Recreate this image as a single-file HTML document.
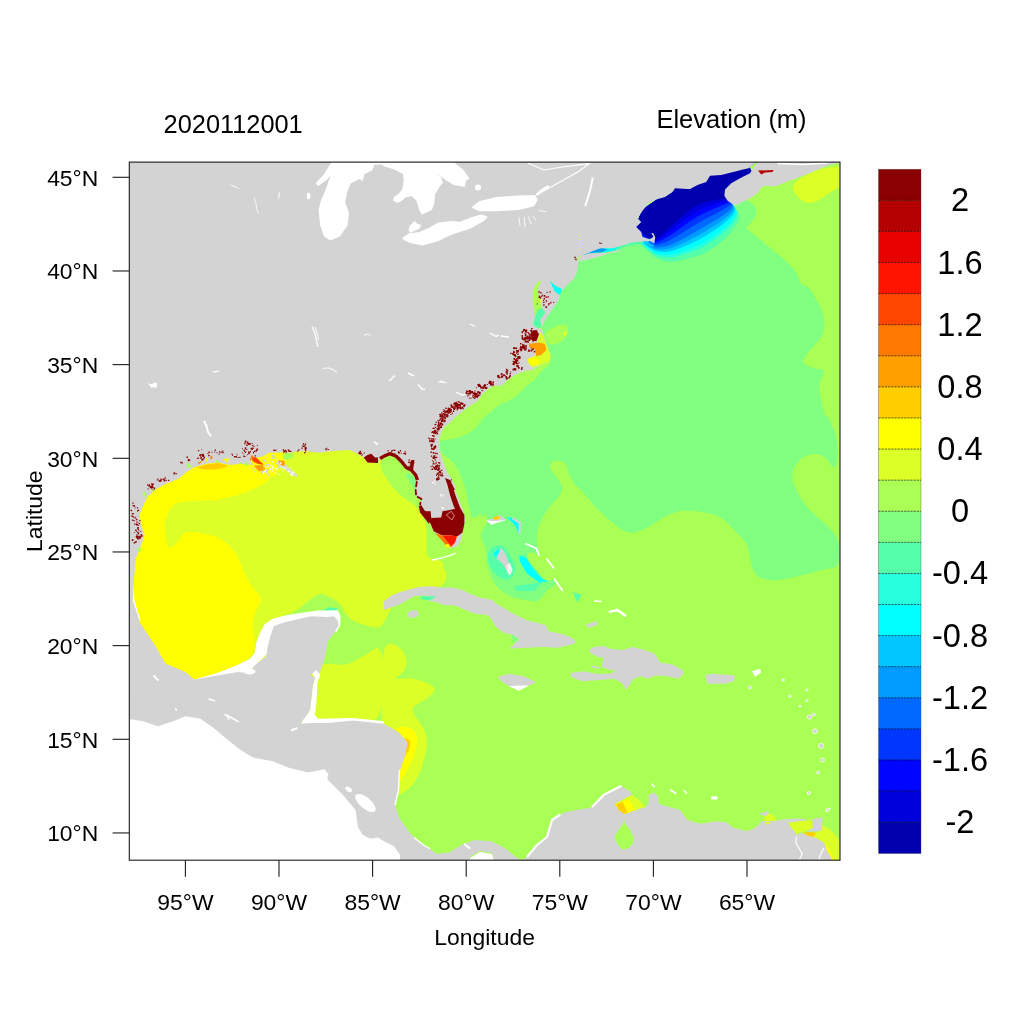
<!DOCTYPE html>
<html><head><meta charset="utf-8"><title>Elevation (m) 2020112001</title>
<style>html,body{margin:0;padding:0;background:#fff}svg{display:block}text{font-family:"Liberation Sans",sans-serif;fill:#000}</style></head>
<body><svg width="1024" height="1024" viewBox="0 0 1024 1024">
<rect width="1024" height="1024" fill="#fff"/>
<defs><clipPath id="f"><rect x="129.3" y="162.1" width="710.7" height="698.1"/></clipPath></defs>
<g clip-path="url(#f)" shape-rendering="geometricPrecision">
<rect x="129" y="162" width="712" height="698" fill="#aaff55"/>
<path d="M549.77 364.38 L548.36 365.62 L546.91 366.88 L545.43 368.12 L543.91 369.38 L542.34 370.62 L540.86 372.03 L539.45 373.59 L538.12 375.31 L536.88 377.19 L535.47 378.91 L533.91 380.47 L532.19 381.88 L530.31 383.12 L528.52 384.45 L526.8 385.86 L525.16 387.34 L523.59 388.91 L522.03 390.47 L520.47 392.03 L518.91 393.59 L517.34 395.16 L515.39 396.72 L513.05 398.28 L510.31 399.84 L507.19 401.41 L504.06 403.12 L500.94 405 L497.81 407.03 L494.69 409.22 L491.8 411.33 L489.14 413.36 L486.72 415.31 L484.53 417.19 L482.34 419.09 L480.16 421.03 L477.97 423 L475.78 425 L476.36 424.79 L479.7 422.37 L485.81 417.73 L494.69 410.89 L500.77 406.03 L504.05 403.15 L504.53 402.26 L502.22 403.36 L499.94 404.65 L497.69 406.13 L495.47 407.81 L493.28 409.69 L491.02 411.8 L488.67 414.14 L486.25 416.72 L483.75 419.53 L481.25 422.19 L478.75 424.69 L476.25 427.03 L473.75 429.22 L471.25 431.17 L468.75 432.89 L466.25 434.38 L463.75 435.62 L461.25 436.68 L458.75 437.54 L456.25 438.21 L453.75 438.68 L451.29 439.08 L448.87 439.43 L446.48 439.71 L444.14 439.92 L442.26 440.46 L440.86 441.32 L439.92 442.5 L439.45 444 L439.22 445.52 L439.22 447.05 L439.45 448.59 L439.92 450.16 L440.86 451.72 L442.26 453.28 L444.14 454.84 L446.48 456.41 L448.71 458.12 L450.82 460 L452.81 462.03 L454.69 464.22 L456.33 466.48 L457.73 468.83 L458.91 471.25 L459.84 473.75 L460.86 476.41 L461.95 479.22 L463.12 482.19 L464.38 485.31 L465.39 488.44 L466.17 491.56 L466.72 494.69 L467.03 497.81 L467.58 501.09 L468.36 504.53 L469.38 508.12 L470.62 511.88 L472.03 514.38 L473.59 515.62 L475.31 515.62 L477.19 514.38 L478.98 513.75 L480.7 513.75 L482.34 514.38 L483.91 515.62 L483.91 516.25 L482.34 516.25 L479.22 515.62 L474.53 514.38 L471.41 513.83 L469.84 513.98 L469.84 514.84 L471.41 516.41 L473.05 517.27 L474.77 517.42 L476.56 516.88 L478.44 515.62 L480.16 514.77 L481.72 514.3 L483.12 514.22 L484.38 514.53 L485.39 515.23 L486.17 516.33 L486.72 517.81 L487.03 519.69 L486.88 521.64 L486.25 523.67 L485.16 525.78 L483.59 527.97 L482.42 530.16 L481.64 532.34 L481.25 534.53 L481.25 536.72 L481.56 538.91 L482.19 541.09 L483.12 543.28 L484.38 545.47 L485.31 547.81 L485.94 550.31 L486.25 552.97 L486.25 555.78 L486.48 558.83 L486.95 562.11 L487.66 565.62 L488.59 569.38 L489.61 572.81 L490.7 575.94 L491.88 578.75 L493.12 581.25 L494.61 583.59 L496.33 585.78 L498.28 587.81 L500.47 589.69 L502.66 591.41 L504.84 592.97 L507.03 594.38 L509.22 595.62 L511.64 596.72 L514.3 597.66 L517.19 598.44 L520.31 599.06 L523.53 599.67 L526.84 600.27 L530.25 600.84 L533.75 601.41 L536.92 600.97 L539.77 599.53 L542.28 597.09 L544.47 593.66 L546.81 590.8 L549.31 588.52 L551.97 586.81 L554.78 585.69 L555.95 584.03 L555.48 581.84 L553.38 579.12 L549.62 575.88 L546.38 571.88 L543.62 567.12 L541.38 561.62 L539.62 555.38 L538.31 549.59 L537.44 544.28 L537 539.44 L537 535.06 L537.59 530.61 L538.78 526.08 L540.56 521.47 L542.94 516.78 L545.69 512.25 L548.81 507.88 L552.31 503.66 L556.19 499.59 L559.09 495.92 L561.03 492.64 L562 489.75 L562 487.25 L561.27 484.52 L559.8 481.55 L557.59 478.34 L554.66 474.91 L552.41 471.94 L550.84 469.44 L549.97 467.41 L549.78 465.84 L550.08 464.44 L550.86 463.19 L552.12 462.09 L553.88 461.16 L555.81 460.64 L557.94 460.55 L560.25 460.88 L562.75 461.62 L564.86 463.25 L566.58 465.75 L567.91 469.12 L568.84 473.38 L570.41 477.42 L572.59 481.27 L575.41 484.91 L578.84 488.34 L582.36 492.02 L585.95 495.92 L589.62 500.06 L593.38 504.44 L597.75 509.05 L602.75 513.89 L608.38 518.97 L614.62 524.28 L620.31 528.34 L625.44 531.16 L630 532.72 L634 533.03 L635.28 532.64 L633.84 531.55 L629.69 529.75 L622.81 527.25 L618.59 526 L617.03 526 L618.12 527.25 L621.88 529.75 L625.78 531.39 L629.84 532.17 L634.06 532.09 L638.44 531.16 L642.97 529.59 L647.66 527.41 L652.5 524.59 L657.5 521.16 L662.34 518.19 L667.03 515.69 L671.56 513.66 L675.94 512.09 L680.62 511.08 L685.62 510.61 L690.94 510.69 L696.56 511.31 L701.88 512.09 L706.88 513.03 L711.56 514.12 L715.94 515.38 L720 517.17 L723.75 519.52 L727.19 522.41 L730.31 525.84 L733.44 529.2 L736.56 532.48 L739.69 535.69 L742.81 538.81 L745.31 542.09 L747.19 545.53 L748.44 549.12 L749.06 552.88 L749.72 556.47 L750.41 559.91 L751.12 563.19 L751.88 566.31 L752.88 569.12 L754.12 571.62 L755.62 573.81 L757.38 575.69 L759.62 577.25 L762.38 578.5 L765.62 579.44 L769.38 580.06 L773.75 580.22 L778.75 579.91 L784.38 579.12 L790.62 577.88 L796.88 576.5 L803.12 575 L809.38 573.38 L815.62 571.62 L821.25 570.17 L826.25 569.02 L830.62 568.16 L834.38 567.59 L837.19 565.48 L839.06 561.83 L840 556.62 L840 549.88 L839.06 543.8 L837.19 538.39 L834.38 533.66 L830.62 529.59 L826.72 525.61 L822.66 521.7 L818.44 517.88 L814.06 514.12 L810.08 510.22 L806.48 506.16 L803.28 501.94 L800.47 497.56 L798.05 493.34 L796.02 489.28 L794.38 485.38 L793.12 481.62 L792.5 477.95 L792.5 474.36 L793.12 470.84 L794.38 467.41 L796.17 464.25 L798.52 461.38 L801.41 458.78 L804.84 456.47 L808.36 454.89 L811.95 454.05 L815.62 453.94 L819.38 454.56 L822.73 455.92 L825.7 458.02 L828.28 460.84 L830.47 464.41 L832.34 466.53 L833.91 467.22 L835.16 466.47 L836.09 464.28 L836.8 461.31 L837.27 457.56 L837.5 453.03 L837.5 447.72 L837.19 442.88 L836.56 438.5 L835.62 434.59 L834.38 431.16 L833.12 427.95 L831.88 424.98 L830.62 422.25 L829.38 419.75 L828.28 417.88 L827.34 416.62 L826.56 416 L825.94 416 L825 414.06 L823.75 410.19 L822.19 404.38 L820.31 396.62 L819.45 389.88 L819.61 384.12 L820.78 379.38 L822.97 375.62 L823.91 372.73 L823.59 370.7 L822.03 369.53 L819.22 369.22 L816.33 368.67 L813.36 367.89 L810.31 366.88 L807.19 365.62 L804.92 364.3 L803.52 362.89 L802.97 361.41 L803.28 359.84 L804.22 357.89 L805.78 355.55 L807.97 352.81 L810.78 349.69 L813.52 346.56 L816.17 343.44 L818.75 340.31 L821.25 337.19 L823.05 333.59 L824.14 329.53 L824.53 325 L824.22 320 L823.44 315.31 L822.19 310.94 L820.47 306.88 L818.28 303.12 L816.17 299.53 L814.14 296.09 L812.19 292.81 L810.31 289.69 L808.59 287.47 L807.03 286.16 L805.62 285.75 L804.38 286.25 L803.05 285.69 L801.64 284.06 L800.16 281.38 L798.59 277.62 L796.88 274.19 L795 271.06 L792.97 268.25 L790.78 265.75 L788.36 263.25 L785.7 260.75 L782.81 258.25 L779.69 255.75 L776.41 253.09 L772.97 250.28 L769.38 247.31 L765.62 244.19 L762.19 241.3 L759.06 238.64 L756.25 236.22 L753.75 234.03 L751.56 232.19 L749.69 230.71 L748.12 229.58 L746.88 228.79 L746.17 228.09 L746.02 227.47 L746.41 226.92 L747.34 226.45 L748.44 225.63 L749.69 224.46 L751.09 222.94 L752.66 221.06 L753.98 219.11 L755.08 217.08 L755.94 214.97 L756.56 212.78 L756.56 210.59 L755.94 208.41 L754.69 206.22 L752.81 204.03 L750 201.92 L746.25 199.89 L741.56 197.94 L735.94 196.06 L729.38 193.88 L721.88 191.38 L713.44 188.56 L704.06 185.44 L693.16 186.72 L680.72 192.41 L666.75 202.5 L651.25 217 L636.62 228.89 L622.88 238.17 L610 244.84 L598 248.91 L588.69 252.89 L582.06 256.8 L578.12 260.62 L576.88 264.38 L574.53 268.91 L571.09 274.22 L566.56 280.31 L560.94 287.19 L556.02 294.22 L551.8 301.41 L548.28 308.75 L545.47 316.25 L543.52 322.19 L542.42 326.56 L542.19 329.38 L542.81 330.62 L543.79 333.44 L545.12 337.81 L546.8 343.75 L548.83 351.25 L550 357.19 L550.32 361.56Z" fill="#80ff80" />
<path d="M547.03 331.01 L549.22 329.61 L551.33 328.36 L553.36 327.27 L555.31 326.33 L557.19 325.55 L559.06 325 L560.94 324.69 L562.81 324.61 L564.69 324.77 L566.13 325.35 L567.15 326.37 L567.73 327.81 L567.89 329.69 L567.81 331.48 L567.5 333.2 L566.95 334.84 L566.17 336.41 L565.19 337.85 L564.02 339.18 L562.66 340.39 L561.09 341.48 L559.53 342.42 L557.97 343.2 L556.41 343.82 L554.84 344.29 L553.4 344.57 L552.07 344.65 L550.86 344.53 L549.76 344.22 L548.67 343.32 L547.57 341.83 L546.48 339.76 L545.39 337.11 L545.12 334.76 L545.66 332.73Z" fill="#aaff55" />
<path d="M563.12 332.5 L566.25 330.62 L566.88 334.38 L564.38 336.25Z" fill="#dcff28" />
<path d="M224 441 L288 441 L335.75 442.66 L367.25 445.97 L382.5 450.94 L381.5 457.56 L381.22 463.31 L381.66 468.19 L382.81 472.19 L384.69 475.31 L386.56 478.28 L388.44 481.09 L390.31 483.75 L392.19 486.25 L394.22 488.67 L396.41 491.02 L398.75 493.28 L401.25 495.47 L403.67 497.42 L406.02 499.14 L408.28 500.62 L410.47 501.88 L412.58 503.36 L414.61 505.08 L416.56 507.03 L418.44 509.22 L420.16 511.64 L421.72 514.3 L423.12 517.19 L424.38 520.31 L425.31 522.5 L425.94 523.75 L426.25 524.06 L426.25 523.44 L426.29 524.06 L426.37 525.94 L426.49 529.06 L426.64 533.44 L426.72 537.89 L426.72 542.42 L426.64 547.03 L426.49 551.72 L427.31 555.33 L429.1 557.86 L431.88 559.31 L435.62 559.69 L438.59 560.19 L440.78 560.81 L442.19 561.56 L442.81 562.44 L443.2 563.33 L443.36 564.23 L443.28 565.16 L442.97 566.09 L443.01 567.11 L443.4 568.2 L444.14 569.38 L445.24 570.62 L446.02 572.03 L446.49 573.59 L446.64 575.31 L446.49 577.19 L446.13 578.91 L445.59 580.47 L444.84 581.88 L443.91 583.12 L442.89 584.22 L441.8 585.16 L440.62 585.94 L439.38 586.56 L436.09 587.11 L430.78 587.58 L423.44 587.97 L414.06 588.28 L406.03 590.69 L399.34 595.19 L394 601.78 L390 610.47 L386.62 617.3 L383.88 622.27 L381.75 625.38 L380.25 626.62 L378.19 627.33 L375.56 627.48 L372.38 627.09 L368.62 626.16 L364.88 625.06 L361.12 623.81 L357.38 622.41 L353.62 620.84 L350.34 618.73 L347.53 616.08 L345.19 612.88 L343.31 609.12 L341.28 605.92 L339.09 603.27 L336.75 601.16 L334.25 599.59 L331.75 598.11 L329.25 596.7 L326.75 595.38 L324.25 594.12 L321.59 593.73 L318.78 594.2 L315.81 595.53 L312.69 597.72 L309.41 600.14 L305.97 602.8 L302.38 605.69 L298.62 608.81 L294.88 611.31 L291.12 613.19 L287.38 614.44 L283.62 615.06 L280.19 619.03 L277.06 626.34 L274.25 637 L271.75 651 L261.12 661.5 L242.38 668.5 L215.5 672 L180.5 672 L154.25 657.56 L136.75 628.69 L128 585.38 L128 527.62 L128 484.31 L128 455.44 L128 441 L128 441 L144 441 L176 441Z" fill="#dcff28" />
<path d="M254.69 470.31 L257.81 472.19 L260.78 473.69 L263.59 474.81 L266.25 475.56 L268.75 475.94 L270 476.75 L270 478 L268.75 479.69 L266.25 481.81 L263.59 483.76 L260.78 485.52 L257.81 487.11 L254.69 488.51 L251.62 489.84 L248.62 491.09 L245.69 492.26 L242.81 493.36 L239.88 494.37 L236.88 495.31 L233.81 496.17 L230.69 496.95 L227.56 497.69 L224.44 498.39 L221.31 499.06 L218.19 499.68 L214.75 500.15 L211 500.46 L206.94 500.62 L202.56 500.62 L198.34 500.7 L194.28 500.86 L190.38 501.09 L186.62 501.41 L183.27 501.84 L180.3 502.39 L177.72 503.05 L175.53 503.83 L173.58 505.04 L171.86 506.68 L170.38 508.75 L169.12 511.25 L167.99 513.59 L166.98 515.78 L166.08 517.81 L165.29 519.69 L164.79 521.88 L164.55 524.38 L164.59 527.19 L164.91 530.31 L165.3 533.52 L165.77 536.8 L166.32 540.16 L166.94 543.59 L167.76 546.02 L168.78 547.42 L169.99 547.81 L171.39 547.19 L172.84 546.33 L174.32 545.23 L175.84 543.91 L177.41 542.34 L178.73 540.78 L179.83 539.22 L180.69 537.66 L181.31 536.09 L182.25 534.77 L183.5 533.67 L185.06 532.81 L186.94 532.19 L189.2 531.88 L191.86 531.88 L194.91 532.19 L198.34 532.81 L201.7 533.44 L204.98 534.06 L208.19 534.69 L211.31 535.31 L214.28 536.17 L217.09 537.27 L219.75 538.59 L222.25 540.16 L224.59 541.8 L226.78 543.52 L228.81 545.31 L230.69 547.19 L232.41 549.09 L233.97 551.03 L235.38 553 L236.62 555 L237.69 556.84 L238.56 558.53 L239.25 560.06 L239.75 561.44 L240.75 563.88 L242.25 567.38 L244.25 571.94 L246.75 577.56 L249.41 582.56 L252.22 586.94 L255.19 590.69 L258.31 593.81 L260.19 596.94 L260.81 600.06 L260.19 603.19 L258.31 606.31 L256.67 609.44 L255.27 612.56 L254.09 615.69 L253.16 618.81 L252.69 622.25 L252.69 626 L253.16 630.06 L254.09 634.44 L254.64 638.66 L254.8 642.72 L254.56 646.62 L253.94 650.38 L252.38 653.81 L249.88 656.94 L246.44 659.75 L242.06 662.25 L237.84 665.69 L233.78 670.06 L229.88 675.38 L226.12 681.62 L217.53 686.31 L204.09 689.44 L185.81 691 L162.69 691 L145.34 675.38 L133.78 644.12 L128 597.25 L128 534.75 L132.69 487.88 L142.06 456.62 L156.12 441 L174.88 441 L191.88 442.66 L207.12 445.97 L220.62 450.94 L232.38 457.56 L241.97 463 L249.41 467.25Z" fill="#ffff00" />
<path d="M196 467.5 L206 464.38 L218.5 463.12 L228.5 465.62 L223.5 468.12 L213.5 469.75 L203.5 469.38Z" fill="#ffcd00" />
<path d="M248.75 457.5 L263.75 455.62 L268.75 452.25 L291.25 452.25 L293.75 457.5 L287.5 461.25 L280 461.88 L275 476.5 L262.5 475 L248.75 467.5Z" fill="#ffff00" />
<path d="M283.75 452.75 L292.5 452.75 L293.75 457.5 L287.5 460.62 L282.75 457.5Z" fill="#aaff55" />
<path d="M383.59 457.03 L385.16 456.72 L387.03 456.72 L389.22 457.03 L391.72 457.66 L394.53 458.59 L397.27 460.08 L399.92 462.11 L402.5 464.69 L405 467.81 L407.34 470.47 L409.53 472.66 L411.56 474.38 L413.44 475.62 L414.84 477.19 L415.78 479.06 L416.25 481.25 L416.25 483.75 L416.13 486.25 L415.9 488.75 L415.55 491.25 L415.08 493.75 L414.93 496.02 L415.08 498.05 L415.55 499.84 L416.33 501.41 L416.68 502.58 L416.6 503.36 L416.09 503.75 L415.16 503.75 L413.91 503.44 L412.34 502.81 L410.47 501.88 L408.28 500.62 L406.02 499.14 L403.67 497.42 L401.25 495.47 L398.75 493.28 L396.41 491.02 L394.22 488.67 L392.19 486.25 L390.31 483.75 L388.44 481.09 L386.56 478.28 L384.69 475.31 L382.81 472.19 L381.48 469.22 L380.7 466.41 L380.47 463.75 L380.78 461.25 L381.41 459.3 L382.34 457.89Z" fill="#aaff55" />
<path d="M405 473.12 L410 473.75 L416.25 478.75 L416 490 L413.12 487.5 L408.75 480Z" fill="#80ff80" />
<path d="M315 452.75 L316.25 444.38 L318.5 452.75Z" fill="#aaff55" />
<path d="M283.75 457.5 L291.25 454.38 L293.12 457.5 L286.25 460Z" fill="#aaff55" />
<path d="M377.06 647.19 L372.44 650.31 L367.72 653.36 L362.91 656.33 L358 659.22 L353 662.03 L348.16 663.91 L343.47 664.84 L338.94 664.84 L334.56 663.91 L329.72 663.67 L324.41 664.14 L318.62 665.31 L312.38 667.19 L307.69 672.5 L304.56 681.25 L303 693.44 L303 709.06 L308.06 720.78 L318.19 728.59 L333.38 732.5 L353.62 732.5 L368.81 726.88 L378.94 715.62 L384 698.75 L384 676.25 L382.84 660.16 L380.53 650.47Z" fill="#dcff28" />
<path d="M388.06 643.44 L392.44 644.06 L396.27 645.47 L399.55 647.66 L402.28 650.62 L404.47 654.38 L405.88 657.97 L406.5 661.41 L406.34 664.69 L405.41 667.81 L403.92 670.62 L401.89 673.12 L399.31 675.31 L396.19 677.19 L395.25 678.44 L396.5 679.06 L399.94 679.06 L405.56 678.44 L411.27 678.59 L417.05 679.53 L422.91 681.25 L428.84 683.75 L432.75 686.25 L434.62 688.75 L434.47 691.25 L432.28 693.75 L429.55 696.25 L426.27 698.75 L422.44 701.25 L418.06 703.75 L414.94 706.09 L413.06 708.28 L412.44 710.31 L413.06 712.19 L414.23 714.53 L415.95 717.34 L418.22 720.62 L421.03 724.38 L423.3 728.12 L425.02 731.88 L426.19 735.62 L426.81 739.38 L426.89 743.75 L426.42 748.75 L425.41 754.38 L423.84 760.62 L422.05 766.41 L420.02 771.72 L417.75 776.56 L415.25 780.94 L412.59 784.69 L409.78 787.81 L406.81 790.31 L403.69 792.19 L400.41 793.91 L396.97 795.47 L393.38 796.88 L389.62 798.12 L386.66 794.38 L384.47 785.62 L383.06 771.88 L382.44 753.12 L381.97 733.91 L381.66 714.22 L381.5 694.06 L381.5 673.44 L382.59 658.12 L384.78 648.12Z" fill="#dcff28" />
<path d="M399.62 727.03 L403.38 726.72 L406.73 727.03 L409.7 727.97 L412.28 729.53 L414.47 731.72 L416.03 734.3 L416.97 737.27 L417.28 740.62 L416.97 744.38 L416.27 748.28 L415.17 752.34 L413.69 756.56 L411.81 760.94 L409.94 765 L408.06 768.75 L406.19 772.19 L404.31 775.31 L402.59 777.81 L401.03 779.69 L399.62 780.94 L398.38 781.56 L397.44 779.69 L396.81 775.31 L396.5 768.44 L396.5 759.06 L396.34 750.94 L396.03 744.06 L395.56 738.44 L394.94 734.06 L395.41 730.7 L396.97 728.36Z" fill="#ffff00" />
<path d="M405.25 737.5 L410.25 741.25 L409 750 L402.75 760 L399 760Z" fill="#ffcd00" />
<path d="M835.66 166.38 L828.59 167.62 L822.64 168.88 L817.8 170.12 L814.06 171.38 L811.44 172.62 L808.77 173.95 L806.05 175.36 L803.28 176.84 L800.47 178.41 L798.12 179.97 L796.25 181.53 L794.84 183.09 L793.91 184.66 L793.28 186.14 L792.97 187.55 L792.97 188.88 L793.28 190.12 L793.91 191.53 L794.84 193.09 L796.09 194.81 L797.66 196.69 L799.38 198.37 L801.25 199.85 L803.28 201.14 L805.47 202.24 L807.69 202.88 L809.94 203.07 L812.22 202.8 L814.53 202.08 L816.94 201.06 L819.44 199.73 L822.03 198.09 L824.72 196.16 L827.44 194.31 L830.19 192.56 L832.97 190.91 L835.78 189.34 L838.28 188.09 L840.47 187.16 L842.34 186.53 L843.91 186.22 L845.08 184.66 L845.86 181.84 L846.25 177.78 L846.25 172.47 L844.48 168.8 L840.95 166.77Z" fill="#dcff28" />
<path d="M637.5 242 L637.65 242.13 L637.94 242.38 L638.38 242.76 L638.97 243.27 L639.7 243.9 L640.58 244.67 L641.6 245.56 L642.77 246.57 L643.95 247.6 L645.12 248.63 L646.29 249.68 L647.46 250.73 L648.63 251.8 L649.8 252.87 L650.98 253.95 L652.15 255.05 L653.41 256.06 L654.76 257 L656.19 257.86 L657.72 258.64 L659.33 259.34 L661.02 259.97 L662.81 260.51 L664.69 260.99 L666.58 261.34 L668.5 261.57 L670.43 261.69 L672.38 261.69 L674.36 261.57 L676.35 261.34 L678.36 260.99 L680.39 260.51 L682.4 260.04 L684.39 259.55 L686.37 259.05 L688.32 258.54 L690.25 258.02 L692.17 257.5 L694.06 256.96 L695.94 256.41 L697.77 255.82 L699.57 255.17 L701.33 254.48 L703.05 253.74 L704.73 252.95 L706.37 252.11 L707.97 251.22 L709.53 250.28 L711.13 249.26 L712.77 248.17 L714.45 247 L716.17 245.75 L717.93 244.42 L719.73 243.01 L721.56 241.53 L723.44 239.97 L725.26 238.33 L727.04 236.61 L728.77 234.81 L730.45 232.94 L732.08 230.99 L733.66 228.95 L735.19 226.84 L736.68 224.66 L737.84 222.56 L738.68 220.55 L739.2 218.62 L739.39 216.78 L739.27 215.04 L738.82 213.38 L738.05 211.81 L736.95 210.32 L736 209.02 L735.18 207.91 L734.49 206.98 L733.94 206.24 L733.53 205.68 L733.26 205.31 L733.12 205.12 L730 199.5 L737.5 193.25 L751.88 173.25 L748.75 167 L728 170.75 L710 174.5 L675 187 L642.5 209.5 L635 227Z" fill="#55ffaa" />
<path d="M637.5 239.97 L637.66 240.12 L637.98 240.4 L638.46 240.83 L639.1 241.4 L639.9 242.12 L640.85 242.97 L641.97 243.97 L643.25 245.11 L644.5 246.22 L645.74 247.29 L646.95 248.32 L648.15 249.32 L649.32 250.28 L650.47 251.2 L651.6 252.09 L652.71 252.94 L653.9 253.72 L655.17 254.43 L656.53 255.07 L657.97 255.63 L659.49 256.13 L661.09 256.55 L662.78 256.9 L664.55 257.18 L666.34 257.35 L668.15 257.42 L669.98 257.38 L671.82 257.24 L673.69 256.99 L675.58 256.64 L677.48 256.18 L679.41 255.62 L681.32 255.04 L683.23 254.46 L685.12 253.86 L687 253.25 L688.86 252.63 L690.72 252 L692.56 251.36 L694.4 250.71 L696.19 250.02 L697.95 249.31 L699.66 248.56 L701.34 247.78 L702.98 246.97 L704.57 246.13 L706.13 245.25 L707.65 244.35 L709.21 243.38 L710.81 242.35 L712.45 241.25 L714.13 240.09 L715.84 238.87 L717.6 237.58 L719.39 236.23 L721.22 234.81 L723.01 233.33 L724.76 231.79 L726.47 230.19 L728.13 228.52 L729.75 226.79 L731.33 225 L732.87 223.14 L734.36 221.22 L735.57 219.39 L736.47 217.64 L737.09 215.98 L737.41 214.4 L737.44 212.91 L737.18 211.5 L736.62 210.18 L735.77 208.94 L735.02 207.86 L734.38 206.94 L733.85 206.16 L733.43 205.55 L733.11 205.08 L732.89 204.77 L732.79 204.62 L730 199.5 L737.5 193.25 L751.88 173.25 L748.75 167 L728 170.75 L710 174.5 L675 187 L642.5 209.5 L635 227Z" fill="#28ffdc" />
<path d="M637.5 238.7 L637.67 238.85 L638 239.16 L638.51 239.62 L639.18 240.23 L640.02 240.99 L641.03 241.91 L642.2 242.98 L643.55 244.2 L644.86 245.36 L646.13 246.45 L647.37 247.47 L648.58 248.43 L649.75 249.33 L650.89 250.16 L651.99 250.92 L653.06 251.62 L654.21 252.25 L655.43 252.81 L656.74 253.31 L658.13 253.74 L659.59 254.1 L661.14 254.39 L662.76 254.62 L664.46 254.78 L666.19 254.84 L667.93 254.8 L669.69 254.67 L671.47 254.44 L673.27 254.11 L675.09 253.68 L676.93 253.16 L678.79 252.53 L680.64 251.9 L682.49 251.25 L684.33 250.59 L686.16 249.92 L687.99 249.24 L689.81 248.54 L691.62 247.83 L693.43 247.12 L695.2 246.38 L696.92 245.62 L698.61 244.83 L700.26 244.03 L701.87 243.21 L703.45 242.36 L704.98 241.5 L706.47 240.61 L708 239.67 L709.58 238.68 L711.19 237.63 L712.84 236.52 L714.53 235.37 L716.25 234.15 L718.02 232.89 L719.83 231.56 L721.6 230.19 L723.33 228.76 L725.02 227.28 L726.67 225.74 L728.29 224.15 L729.87 222.51 L731.41 220.81 L732.91 219.06 L734.13 217.39 L735.08 215.81 L735.76 214.31 L736.16 212.89 L736.29 211.56 L736.14 210.32 L735.72 209.15 L735.02 208.08 L734.41 207.13 L733.88 206.32 L733.45 205.65 L733.1 205.11 L732.84 204.7 L732.66 204.43 L732.58 204.3 L730 199.5 L737.5 193.25 L751.88 173.25 L748.75 167 L728 170.75 L710 174.5 L675 187 L642.5 209.5 L635 227Z" fill="#00ffff" />
<path d="M637.5 237.2 L637.68 237.36 L638.03 237.69 L638.57 238.19 L639.28 238.84 L640.17 239.67 L641.23 240.65 L642.48 241.81 L643.9 243.12 L645.27 244.34 L646.59 245.45 L647.86 246.47 L649.09 247.39 L650.26 248.2 L651.38 248.92 L652.45 249.54 L653.47 250.06 L654.57 250.52 L655.74 250.91 L656.99 251.24 L658.32 251.51 L659.71 251.72 L661.19 251.86 L662.74 251.94 L664.36 251.96 L666.01 251.89 L667.67 251.73 L669.35 251.48 L671.06 251.14 L672.78 250.72 L674.52 250.2 L676.28 249.6 L678.07 248.9 L679.85 248.2 L681.63 247.48 L683.41 246.74 L685.18 246 L686.96 245.24 L688.74 244.47 L690.51 243.69 L692.29 242.89 L694.02 242.08 L695.72 241.27 L697.38 240.45 L699 239.62 L700.58 238.78 L702.12 237.94 L703.62 237.08 L705.08 236.22 L706.58 235.31 L708.12 234.36 L709.7 233.37 L711.32 232.33 L712.98 231.25 L714.68 230.12 L716.41 228.96 L718.19 227.74 L719.93 226.49 L721.64 225.19 L723.31 223.85 L724.96 222.47 L726.56 221.04 L728.14 219.58 L729.68 218.07 L731.19 216.51 L732.45 215.04 L733.45 213.66 L734.2 212.35 L734.69 211.13 L734.94 209.99 L734.92 208.93 L734.66 207.95 L734.14 207.06 L733.69 206.27 L733.3 205.6 L732.97 205.04 L732.71 204.6 L732.52 204.26 L732.39 204.04 L732.33 203.93 L730 199.5 L737.5 193.25 L751.88 173.25 L748.75 167 L728 170.75 L710 174.5 L675 187 L642.5 209.5 L635 227Z" fill="#00c8ff" />
<path d="M637.5 235.85 L637.69 236.03 L638.06 236.38 L638.62 236.9 L639.37 237.6 L640.3 238.47 L641.42 239.53 L642.72 240.75 L644.21 242.15 L645.64 243.42 L647.01 244.56 L648.31 245.57 L649.54 246.45 L650.71 247.19 L651.82 247.81 L652.87 248.3 L653.85 248.66 L654.9 248.96 L656.02 249.2 L657.22 249.38 L658.48 249.5 L659.82 249.57 L661.23 249.58 L662.72 249.53 L664.27 249.42 L665.85 249.23 L667.44 248.96 L669.05 248.61 L670.69 248.18 L672.34 247.66 L674.01 247.07 L675.7 246.39 L677.41 245.64 L679.13 244.87 L680.85 244.08 L682.57 243.28 L684.3 242.47 L686.03 241.64 L687.77 240.81 L689.51 239.95 L691.26 239.09 L692.97 238.22 L694.64 237.36 L696.27 236.5 L697.86 235.65 L699.41 234.8 L700.92 233.95 L702.4 233.1 L703.83 232.26 L705.3 231.39 L706.82 230.48 L708.37 229.54 L709.96 228.56 L711.59 227.55 L713.26 226.5 L714.96 225.42 L716.71 224.31 L718.43 223.16 L720.12 221.98 L721.78 220.77 L723.41 219.52 L725.01 218.25 L726.59 216.94 L728.13 215.6 L729.65 214.22 L730.93 212.93 L731.98 211.72 L732.79 210.59 L733.37 209.53 L733.72 208.56 L733.83 207.67 L733.71 206.87 L733.35 206.14 L733.04 205.5 L732.77 204.95 L732.55 204.5 L732.37 204.13 L732.23 203.86 L732.14 203.68 L732.1 203.59 L730 199.5 L737.5 193.25 L751.88 173.25 L748.75 167 L728 170.75 L710 174.5 L675 187 L642.5 209.5 L635 227Z" fill="#009bff" />
<path d="M637.5 234.35 L637.7 234.54 L638.09 234.91 L638.68 235.47 L639.46 236.22 L640.44 237.15 L641.62 238.27 L643 239.58 L644.57 241.07 L646.06 242.4 L647.47 243.57 L648.8 244.57 L650.05 245.4 L651.22 246.07 L652.31 246.58 L653.33 246.92 L654.26 247.1 L655.26 247.22 L656.33 247.29 L657.47 247.31 L658.67 247.27 L659.94 247.19 L661.28 247.04 L662.69 246.85 L664.17 246.6 L665.67 246.28 L667.18 245.89 L668.72 245.42 L670.27 244.88 L671.85 244.27 L673.44 243.59 L675.05 242.84 L676.68 242.01 L678.33 241.17 L679.98 240.31 L681.65 239.44 L683.32 238.55 L685 237.65 L686.7 236.73 L688.4 235.8 L690.12 234.86 L691.8 233.93 L693.43 233.02 L695.03 232.12 L696.59 231.24 L698.11 230.37 L699.59 229.52 L701.04 228.69 L702.44 227.87 L703.88 227.03 L705.36 226.16 L706.88 225.28 L708.44 224.36 L710.04 223.43 L711.68 222.47 L713.35 221.49 L715.07 220.48 L716.76 219.46 L718.43 218.41 L720.07 217.34 L721.69 216.25 L723.29 215.14 L724.86 214.01 L726.41 212.85 L727.93 211.68 L729.25 210.58 L730.34 209.56 L731.23 208.63 L731.9 207.77 L732.36 206.99 L732.61 206.28 L732.65 205.66 L732.47 205.12 L732.32 204.64 L732.18 204.23 L732.07 203.89 L731.98 203.62 L731.92 203.42 L731.87 203.28 L731.85 203.21 L730 199.5 L737.5 193.25 L751.88 173.25 L748.75 167 L728 170.75 L710 174.5 L675 187 L642.5 209.5 L635 227Z" fill="#0069ff" />
<path d="M637.5 232.25 L637.71 232.45 L638.13 232.86 L638.76 233.47 L639.6 234.28 L640.65 235.3 L641.91 236.52 L643.38 237.94 L645.06 239.56 L646.64 240.98 L648.11 242.18 L649.49 243.16 L650.76 243.94 L651.93 244.5 L653 244.85 L653.97 244.99 L654.84 244.92 L655.77 244.8 L656.76 244.63 L657.82 244.42 L658.93 244.15 L660.11 243.85 L661.36 243.5 L662.66 243.1 L664.03 242.65 L665.41 242.15 L666.82 241.58 L668.25 240.96 L669.69 240.27 L671.16 239.52 L672.64 238.72 L674.14 237.85 L675.67 236.93 L677.21 235.99 L678.77 235.03 L680.35 234.05 L681.95 233.06 L683.56 232.06 L685.2 231.03 L686.85 230 L688.52 228.94 L690.16 227.92 L691.75 226.93 L693.3 225.98 L694.82 225.06 L696.3 224.17 L697.73 223.32 L699.13 222.5 L700.49 221.72 L701.89 220.92 L703.33 220.12 L704.8 219.31 L706.32 218.49 L707.88 217.67 L709.47 216.83 L711.1 215.99 L712.77 215.14 L714.43 214.28 L716.07 213.42 L717.69 212.55 L719.29 211.67 L720.88 210.79 L722.45 209.91 L724 209.01 L725.53 208.12 L726.89 207.3 L728.06 206.55 L729.04 205.88 L729.85 205.29 L730.47 204.78 L730.91 204.34 L731.17 203.97 L731.24 203.69 L731.3 203.44 L731.36 203.22 L731.41 203.05 L731.44 202.9 L731.47 202.79 L731.49 202.72 L731.5 202.69 L730 199.5 L737.5 193.25 L751.88 173.25 L748.75 167 L728 170.75 L710 174.5 L675 187 L642.5 209.5 L635 227Z" fill="#0037ff" />
<path d="M637.5 230.3 L637.72 230.52 L638.17 230.96 L638.84 231.61 L639.73 232.48 L640.84 233.58 L642.18 234.89 L643.73 236.41 L645.52 238.16 L647.18 239.65 L648.71 240.88 L650.13 241.86 L651.42 242.58 L652.59 243.04 L653.64 243.25 L654.57 243.2 L655.38 242.89 L656.24 242.54 L657.16 242.15 L658.14 241.73 L659.18 241.26 L660.27 240.75 L661.42 240.2 L662.63 239.61 L663.9 238.99 L665.18 238.31 L666.48 237.58 L667.81 236.81 L669.15 235.99 L670.52 235.12 L671.9 234.2 L673.3 233.23 L674.72 232.21 L676.17 231.18 L677.65 230.12 L679.15 229.05 L680.67 227.97 L682.23 226.86 L683.8 225.74 L685.41 224.6 L687.04 223.45 L688.63 222.34 L690.19 221.28 L691.7 220.28 L693.17 219.32 L694.61 218.42 L696.01 217.56 L697.37 216.76 L698.68 216 L700.04 215.26 L701.44 214.51 L702.88 213.77 L704.35 213.04 L705.86 212.32 L707.42 211.59 L709.01 210.88 L710.64 210.17 L712.26 209.47 L713.87 208.78 L715.47 208.09 L717.06 207.42 L718.64 206.75 L720.2 206.1 L721.76 205.45 L723.3 204.81 L724.69 204.24 L725.93 203.75 L727.01 203.34 L727.94 202.99 L728.71 202.72 L729.33 202.53 L729.79 202.41 L730.1 202.36 L730.37 202.32 L730.6 202.29 L730.79 202.26 L730.94 202.23 L731.06 202.22 L731.14 202.21 L731.17 202.2 L730 199.5 L737.5 193.25 L751.88 173.25 L748.75 167 L728 170.75 L710 174.5 L675 187 L642.5 209.5 L635 227Z" fill="#0005ff" />
<path d="M637.5 228.65 L637.73 228.88 L638.2 229.34 L638.9 230.04 L639.83 230.96 L641 232.12 L642.4 233.51 L644.04 235.13 L645.9 236.97 L647.63 238.53 L649.22 239.79 L650.67 240.76 L651.98 241.43 L653.15 241.81 L654.18 241.89 L655.08 241.68 L655.83 241.18 L656.64 240.64 L657.5 240.06 L658.42 239.45 L659.38 238.81 L660.4 238.13 L661.48 237.42 L662.6 236.67 L663.78 235.88 L664.98 235.06 L666.2 234.2 L667.44 233.3 L668.7 232.36 L669.98 231.38 L671.27 230.37 L672.59 229.31 L673.92 228.22 L675.29 227.11 L676.69 225.97 L678.13 224.82 L679.59 223.66 L681.09 222.47 L682.62 221.26 L684.19 220.04 L685.79 218.8 L687.34 217.62 L688.86 216.51 L690.34 215.46 L691.78 214.47 L693.18 213.55 L694.55 212.69 L695.87 211.9 L697.15 211.17 L698.48 210.46 L699.84 209.76 L701.24 209.09 L702.68 208.43 L704.16 207.79 L705.68 207.16 L707.24 206.56 L708.84 205.97 L710.43 205.4 L712.01 204.85 L713.59 204.33 L715.17 203.82 L716.74 203.34 L718.3 202.87 L719.86 202.43 L721.42 202.01 L722.84 201.66 L724.13 201.38 L725.29 201.18 L726.32 201.05 L727.22 200.99 L727.99 201 L728.63 201.08 L729.13 201.24 L729.57 201.38 L729.95 201.49 L730.27 201.59 L730.52 201.67 L730.71 201.73 L730.84 201.77 L730.9 201.79 L730 199.5 L737.5 193.25 L751.88 173.25 L748.75 167 L728 170.75 L710 174.5 L675 187 L642.5 209.5 L635 227Z" fill="#0000dc" />
<path d="M637.5 227 L637.74 227.24 L638.23 227.73 L638.97 228.47 L639.94 229.44 L641.16 230.66 L642.63 232.13 L644.34 233.84 L646.29 235.79 L648.09 237.41 L649.73 238.7 L651.21 239.66 L652.54 240.28 L653.71 240.57 L654.73 240.53 L655.59 240.16 L656.29 239.46 L657.04 238.73 L657.84 237.97 L658.69 237.18 L659.59 236.36 L660.54 235.51 L661.53 234.63 L662.58 233.72 L663.67 232.78 L664.78 231.81 L665.92 230.82 L667.07 229.79 L668.24 228.74 L669.43 227.65 L670.64 226.54 L671.88 225.4 L673.12 224.23 L674.41 223.03 L675.74 221.82 L677.11 220.59 L678.51 219.34 L679.96 218.07 L681.44 216.78 L682.97 215.48 L684.53 214.15 L686.06 212.9 L687.54 211.73 L688.99 210.63 L690.39 209.62 L691.76 208.68 L693.09 207.82 L694.38 207.04 L695.62 206.34 L696.91 205.66 L698.24 205.02 L699.61 204.4 L701.01 203.82 L702.46 203.26 L703.94 202.73 L705.47 202.24 L707.03 201.76 L708.59 201.33 L710.16 200.93 L711.72 200.56 L713.28 200.22 L714.84 199.92 L716.41 199.65 L717.97 199.41 L719.53 199.21 L720.99 199.08 L722.33 199.01 L723.57 199.02 L724.71 199.1 L725.73 199.25 L726.65 199.47 L727.46 199.76 L728.16 200.12 L728.78 200.43 L729.31 200.7 L729.75 200.93 L730.1 201.1 L730.36 201.24 L730.54 201.33 L730.62 201.38 L730 199.5 L737.5 193.25 L751.88 173.25 L748.75 167 L728 170.75 L710 174.5 L675 187 L642.5 209.5 L635 227Z" fill="#0000af" />
<path d="M745 168.88 L748.75 168.25 L756.25 162 L752.5 162 L746.88 167Z" fill="#0037ff" />
<path d="M745 168.88 L750 167.62 L752.5 173.88 L748.75 174.5Z" fill="#0000af" />
<path d="M581.25 255.94 L584.06 252.66 L593.44 248.62 L603.75 246.75 L616.87 245.81 L626.25 242.62 L635.62 242.06 L642.19 240.75 L644.06 242.81 L635.62 244.69 L626.25 246.09 L618.75 250.12 L611.25 251.72 L605.62 253.12 L598.12 253.12 L588.75 253.59Z" fill="#55ffaa" />
<path d="M602.81 247.97 L612.19 247.03 L618.75 247.5 L611.25 251.44 L605.62 252.66Z" fill="#00ffff" />
<path d="M582.19 255.47 L585 252.66 L593.44 249.19 L602.81 247.97 L607.5 249.56 L601.87 252.37 L593.44 252.75 L588.75 253.59Z" fill="#009bff" />
<path d="M642.19 240.94 L652.5 238.12 L654.37 241.41 L653.43 247.03 L648.75 246.09 L644.06 243.75Z" fill="#00c8ff" />
<path d="M648.75 241.41 L653.43 240 L653.9 245.16 L649.69 243.75Z" fill="#0069ff" />
<path d="M606.09 252.66 L609.37 251.25 L609.84 252.37 L607.03 253.69Z" fill="#ffcd00" />
<path d="M549.38 280 L555 285.62 L558.75 287.5 L561.88 288.5 L560 295 L555 291.88 L552.25 286.88Z" fill="#00ffff" />
<path d="M535.62 327.5 L541.88 327.75 L540.25 320 L545.62 312.5 L541.88 307.5 L537.5 310 L535 317.5 L532.75 323.75Z" fill="#55ffaa" />
<path d="M537.5 310 L541.88 307.5 L540 300 L537.5 290 L541.25 280.62 L538.12 281.25 L533.12 290 L532.75 300Z" fill="#aaff55" />
<path d="M822.35 824.22 L822.93 825.15 L823.78 826.03 L824.89 826.85 L826.27 827.61 L827.91 828.32 L829.49 829.25 L831.02 830.43 L832.48 831.83 L833.89 833.48 L835.18 835.03 L836.35 836.5 L837.41 837.87 L838.34 839.16 L839.11 841.38 L839.69 844.55 L840.1 848.65 L840.33 853.69 L839.98 857.47 L839.04 859.99 L837.52 861.25 L835.41 861.25 L833.71 860.9 L832.42 860.19 L831.55 859.14 L831.08 857.73 L830.55 856.44 L829.96 855.27 L829.32 854.21 L828.61 853.28 L827.97 852.22 L827.38 851.05 L826.86 849.76 L826.39 848.36 L825.92 847.07 L825.45 845.9 L824.98 844.84 L824.52 843.91 L823.75 842.97 L822.7 842.03 L821.35 841.09 L819.71 840.16 L818.13 839.28 L816.6 838.46 L815.14 837.7 L813.73 836.99 L812.91 836.23 L812.68 835.41 L813.03 834.53 L813.96 833.6 L815.11 832.78 L816.45 832.07 L818.01 831.48 L819.76 831.02 L821.02 830.19 L821.79 829.02 L822.05 827.5 L821.82 825.62 L821.79 824.45 L821.97 823.98Z" fill="#dcff28" />
<path d="M824.28 844.84 L826.81 845.31 L830.37 850.94 L834.12 860.31 L830.37 861.25 L826.62 853.75Z" fill="#ffff00" />
<path d="M129 700 L200 705 L300 740 L360 790 L400 840 L410 858 L470 858 L480 852 L492 854 L494 860 L129 860Z" fill="#fff" />
<path d="M194 679.5 L215.5 673.5 L230 668.12 L240 663.75 L250 658.75 L255 652.5 L256.25 642.5 L260 632.5 L265 623.75 L272.5 618.75 L285 615.62 L300 613.12 L317.5 610.62 L337.5 610 L340.62 616.25 L340.25 625 L336.25 632.5 L330 625 L280 627.5 L271.25 650 L242.5 677.5 L205 685Z" fill="#fff" />
<path d="M311.25 672.5 L316.25 667.5 L320.25 675 L317.5 682.5 L316.5 700 L315.25 712.5 L311.88 720 L325 720.62 L342.5 718.75 L358 720 L358 725 L317.5 726.25 L300 725 L305 717.5 L310 710 L311.25 700 L312.5 687.5 L315 677.5Z" fill="#fff" />
<path d="M323.75 609.38 L330 607.25 L337.5 608.5 L337.5 610.25 L325 610.5Z" fill="#55ffaa" />
<path d="M133 556 L131.75 576 L133 601 L139.25 621" fill="none" stroke="#fff" stroke-width="3" />
<path d="M300.5 720 L313 712.5 L318 718.75 L353 718 L384 721.25 L384 724.5 L353 722 L310.5 725Z" fill="#fff" />
<path d="M129 162 L756.25 162 L748.75 168.25 L745 168.88 L731.25 172.62 L721.25 175.12 L710 175.75 L706.25 182 L697.5 185.12 L690 188.88 L687.5 188.88 L675 188.25 L672.5 192 L665 197 L656.25 199.5 L648.75 203.25 L642.5 210.75 L637.5 218.25 L641.25 222 L636.25 227 L641.25 232 L642.5 237 L650 239.25 L653.5 236.75 L651.25 233.25 L653.12 233 L655.25 237 L654.38 243.25 L650 241 L641.25 241.38 L631.25 242.62 L625 244.75 L612.5 248.25 L600 248.25 L580 256.25 L576.88 258.75 L578.5 262.5 L576.88 272.5 L573.75 278.75 L567.5 285 L562.5 290 L561.25 288.5 L555 285.62 L549.38 280 L552.5 286.88 L555 291.88 L560 295 L558.75 300 L553.75 307.5 L547.5 316.25 L542.5 325 L541.88 327.75 L540.25 320 L545.62 312.5 L541.88 307.5 L540 300 L537.5 290 L541.25 280.62 L537.5 281.88 L533.12 290 L532.75 300 L535 317.5 L532.75 323.75 L535.62 327.5 L541.88 329 L543.75 335 L546.88 345 L547.5 347.5 L550.62 355 L550 361.25 L540 365 L532.5 370 L523.75 371.25 L515 375 L507.5 380 L502.5 385.62 L492.5 386.25 L483.75 392.5 L477.5 401.25 L467.5 407.5 L455 417.5 L445 427.5 L446.25 423.75 L441.25 432.5 L439.38 441.25 L440 450 L442.5 460 L446.25 470 L451.25 478.75 L455.62 486.25 L456.25 492.5 L460 502.5 L463.75 512.5 L465.62 520 L464.38 523.75 L462.5 533.12 L461.25 540 L457.5 546.25 L452.5 547.75 L446.25 547.5 L443.75 542.5 L435 533.12 L433.75 531.25 L430 522.5 L425 515 L430 517.5 L425 512.5 L420 506.25 L421.25 498.75 L416.25 496.25 L415.62 490 L417.5 480 L415 473.75 L411.25 465 L406.25 467.5 L401.25 461.25 L396.25 456.25 L390 453.75 L385 456.25 L380 458.75 L378 463.12 L367.5 462.5 L363.75 457.5 L357.5 453.75 L350 450 L340 450.62 L330 451.25 L320 452.75 L305 451.25 L297.5 451.25 L291.25 452.75 L283.75 452.25 L275 452.75 L268.75 452.75 L263.75 456.25 L257.5 457.5 L252.5 457.5 L250 461.25 L254 465 L241 463.75 L229.75 465 L218.5 462.5 L206 463.75 L193.5 467.5 L186 472.5 L178.5 478.75 L166 483.75 L154.75 490 L147.25 497.5 L142.25 507.5 L139.75 515 L141 525 L144.75 535 L139.75 548.75 L136 558 L134.25 576 L133 601 L140.5 623.5 L155.5 646 L165.5 663.5 L185.5 672 L194.25 679.5 L223 674.5 L238 672 L241.25 672.5 L250 671.88 L255 665 L266.25 656.25 L267.5 647.5 L270 637.5 L273.75 626.25 L283.75 622.5 L300 618.75 L311.25 616.25 L327.5 616.88 L333.75 616.25 L337.5 620 L338.75 625 L333.75 633.75 L328.75 640 L326.88 647.5 L325 657.5 L322.5 665 L319.38 673.75 L316.25 670 L310.62 675 L315 677.5 L312.5 687.5 L311.25 700 L310 710 L305 717.5 L300 723.75 L311.75 723 L328 723 L353 720.5 L384 723.75 L399 732.5 L407.75 742.5 L405.25 755 L400.25 770 L399 790 L395.25 805 L399 817.5 L411.5 835 L424 845 L436.5 853.75 L449 852.5 L461.5 845 L474 840 L491.5 841.25 L504 847.5 L516.5 857.5 L521.5 860 L494 860 L492 853 L480 851 L470 857 L470 860 L400 860 L400.25 855 L394 846.25 L384 841.25 L378 837.5 L370.5 838.75 L363 835 L358 827.5 L355.5 810 L343 795 L328 780 L325.5 772.5 L320.5 770 L308 772.5 L288 767.5 L273 761.25 L253 757.5 L240.5 750 L228 740 L213 727.5 L200.5 718.75 L185.5 716.25 L173 721.25 L158 726.25 L143 721.25 L128 718.75Z" fill="#d3d3d3" />
<path d="M521.5 860 L526.5 857.5 L536.5 845 L546.5 837.5 L551.5 820 L564 812.5 L576.5 810 L591.5 807.5 L604 795 L621.5 786.25 L631.5 792.5 L623.75 786.25 L631.25 792.5 L633.75 798.75 L625 810 L645 807.5 L648.75 803.75 L648.75 795 L653.75 792.5 L658 796.25 L658.75 803.75 L662.5 805 L680 810 L687.5 820 L700 823.75 L717.5 821.25 L727.5 822.5 L732.5 827.5 L747.5 831.25 L746 831.25 L752.56 829.37 L758.19 825.62 L761.94 820.94 L774.12 820.94 L783.5 819.53 L794.75 818.59 L806 819.06 L806 820.19 L798.5 821.59 L788.19 823 L791 827.5 L794.75 831.25 L796.62 835 L800.37 832.65 L804.12 834.06 L811.62 835.94 L817.25 838.75 L823.81 842.5 L825.69 846.25 L827.56 851.87 L830.37 855.62 L832.25 861.25 L500 870Z" fill="#d3d3d3" />
<path d="M757.5 162 L750 173.25 L740 178.25 L731.25 183.25 L725 189.5 L724.38 195.75 L727.5 200.75 L735 205.75 L742.5 202 L752.5 197 L760 190.75 L761.25 187 L767.5 185.75 L775 186.38 L785 182.62 L796.25 178.25 L807.5 173.88 L818 169.5 L827.5 165.75 L840 162.62 L840 162Z" fill="#d3d3d3" />
<path d="M758.12 170.5 L773.75 170.12 L772.5 172 L765 172.62 L761.25 174.5Z" fill="#b40000" />
<path d="M777.5 163.5 L802.5 164.5 L827.5 163" fill="none" stroke="#fff" stroke-width="1.5" />
<path d="M578.44 260.62 L579.84 257.34 L582.19 255.47 L588.75 253.59 L598.12 253.12 L605.62 253.12 L611.25 251.72 L618.75 250.12 L621.09 250.5 L618.75 251.44 L609.37 253.31 L598.12 257.06 L588.75 259.5 L579.37 261.37Z" fill="#d3d3d3" />
<path d="M383.75 601.25 L392.5 595 L400 591.88 L407.5 590 L418.75 586.88 L431.25 586.25 L441.25 587.5 L452.5 587.5 L462.5 590 L470 593.75 L480 597.5 L492.5 600 L495.62 603.12 L511.25 612.5 L526.88 620.31 L545.62 625 L548.75 631.25 L564.38 634.38 L573.75 639.06 L575.62 642.19 L573.75 644.06 L558.12 647.66 L542.5 646.88 L526.88 647.66 L509.69 648.44 L519.06 639.06 L511.25 634.38 L503.44 632.81 L495.62 626.56 L489.38 616.41 L487.5 615 L475 613.75 L462.5 608.75 L455 605.62 L443.75 605 L437.5 602.5 L427.5 600.62 L435 597.5 L425 595.62 L413.75 596.25 L407.5 600 L400 604.38 L383.75 610Z" fill="#d3d3d3" />
<path d="M407.5 613.12 L411.25 610.25 L417.5 610.62 L418.75 615 L415 617.75 L408.75 617.5Z" fill="#d3d3d3" />
<path d="M511.25 634.38 L519.06 639.06 L513.59 642.97 L512.03 637.5Z" fill="#80ff80" />
<path d="M589 650 L594 647 L601.5 646.25 L606 646.5 L610 648.75 L622.5 650 L632.5 647 L645 650 L655 653.75 L660 662.5 L672.5 664.5 L682.5 670 L683.75 673.75 L678.75 678.75 L667.5 676.25 L656.25 675.5 L647.5 678.75 L641.25 676.25 L633.75 678.75 L626.25 690 L622.5 683.75 L615 678.75 L600 680 L581.5 681.25 L571.5 677 L570.25 673 L584 671.25 L596.5 673.75 L609 673.75 L616.5 671.25 L609 669.5 L601.5 667 L603.5 657.5 L599 657.5 L590.25 653Z" fill="#d3d3d3" />
<path d="M591.5 665.5 L599.5 667 L600 669 L592.75 668Z" fill="#d3d3d3" />
<path d="M497.75 677 L509 673.75 L524 676.25 L536.5 682.5 L529 685.5 L519 690 L509 686.25 L501.5 681.25Z" fill="#d3d3d3" />
<path d="M509 686.25 L519 685.5 L529 685.5 L519 691Z" fill="#fff" />
<path d="M705 675 L712.5 673.75 L735 675.5 L733.75 681.25 L725 683.75 L707.5 683.75Z" fill="#d3d3d3" />
<path d="M492.43 547.34 L494.46 546.41 L496.37 545.78 L498.16 545.47 L499.84 545.47 L501.41 545.78 L502.97 546.56 L504.53 547.81 L506.09 549.53 L507.66 551.72 L509.22 554.14 L510.78 556.8 L512.34 559.69 L513.91 562.81 L514.84 565.78 L515.16 568.59 L514.84 571.25 L513.91 573.75 L512.81 575.82 L511.56 577.46 L510.16 578.67 L508.59 579.45 L506.88 579.76 L505 579.61 L502.97 578.98 L500.78 577.89 L498.67 576.52 L496.64 574.88 L494.69 572.97 L492.81 570.78 L491.25 568.52 L490 566.17 L489.06 563.75 L488.44 561.25 L488.09 558.83 L488.01 556.48 L488.21 554.22 L488.68 552.03 L489.53 550.16 L490.78 548.59Z" fill="#55ffaa" />
<path d="M493.12 553.75 L498.75 548.75 L500 552.5 L496.25 558.12Z" fill="#00ffff" />
<path d="M496.25 558.12 L501.25 548.12 L505 552.5 L508.75 562.5 L512.5 570 L510 575.62 L506.25 570 L502.5 563.75Z" fill="#d3d3d3" />
<path d="M506.25 565 L510 563.12 L512.5 570 L510 575.62 L507.5 572.5Z" fill="#f2f2f2" />
<path d="M506.25 516.88 L515 518.75 L521.25 523.75 L518.75 535 L516.25 527.5 L512.5 522.5Z" fill="#00ffff" />
<path d="M486.25 520 L492.5 518.75 L500 515 L506.25 520 L498.75 521.25 L491.25 524.38Z" fill="#d3d3d3" />
<path d="M486.25 520 L492.5 521.25 L506.25 520 L498.75 522.25 L491.25 524.75Z" fill="#fff" />
<path d="M492.5 518.12 L498.75 515.62 L500 518.75 L495 520Z" fill="#ffcd00" />
<path d="M512.5 518.12 L520 523.12 L519.38 533.75" fill="none" stroke="#d3d3d3" stroke-width="2.2" />
<path d="M525.25 543.5 L536.5 548.5 L539 556" fill="none" stroke="#fff" stroke-width="1.8" />
<path d="M519.06 555.47 L526.88 558.12 L533.12 568.75 L542.5 578.91 L548.75 581.56 L539.38 582.5 L526.88 573.44 L520.31 562.5Z" fill="#00ffff" />
<path d="M520.94 554.69 L526.88 558.12 L533.12 568.75 L542.5 578.91 L539.38 573.44 L531.56 562.5 L526.88 554.69Z" fill="#55ffaa" />
<path d="M528.44 552.81 L531.56 552.19 L534.88 553.17 L538.4 555.74 L542.31 559.76 L546.6 565.24 L550.12 570.71 L552.85 576.17 L553.05 579.5 L550.7 580.66 L547.77 580.47 L544.26 578.9 L540.35 575.47 L536.06 570.15 L532.23 565.39 L528.87 561.17 L527.11 557.57 L526.96 554.61Z" fill="#aaff55" />
<path d="M514 586 L534 583.5 L544 581 L534 591 L516.5 591Z" fill="#55ffaa" />
<path d="M546.5 558.5 L554 568.5" fill="none" stroke="#fff" stroke-width="1.8" />
<path d="M554 578.5 L562.75 591" fill="none" stroke="#fff" stroke-width="1.8" />
<path d="M572.75 592.25 L581.5 594.75 L577.75 602.25Z" fill="#55ffaa" />
<path d="M585.25 624.75 L596.5 621 L597.75 624.75 L589 628Z" fill="#d3d3d3" />
<path d="M610.25 611 L619 611 L626 616" fill="none" stroke="#fff" stroke-width="2.2" />
<path d="M608.75 612.25 L617.5 609.75 L625 616" fill="none" stroke="#fff" stroke-width="2.2" />
<path d="M594 601 L601.5 601.5" fill="none" stroke="#fff" stroke-width="1.5" />
<path d="M431.88 560 L441.25 558.12 L450 555.62 L455.62 553.12" fill="none" stroke="#fff" stroke-width="1.3" />
<path d="M810.69 819.53 L822.87 817.19 L821.94 822.81 L822.4 830.31 L817.25 831.25 L806.94 831.72 L812.56 827.5 L813.03 820.94Z" fill="#d3d3d3" />
<path d="M758.19 813.44 L763.81 812.5 L767.56 811.09 L769.44 813.44 L768.5 815.78 L764.75 816.25 L761.94 814.84Z" fill="#d3d3d3" />
<path d="M825.22 811.37 L830.37 808.28" fill="none" stroke="#eee" stroke-width="1.6" />
<path d="M807.87 794.69 L810.22 791.87" fill="none" stroke="#eee" stroke-width="1.6" />
<path d="M796.62 836.87 L795.69 842.5 L802.25 853.75 L799.44 859.84" fill="none" stroke="#fff" stroke-width="1.2" />
<path d="M823.81 848.12 L820.06 855.62 L819.12 859.84" fill="none" stroke="#fff" stroke-width="1.2" />
<circle cx="783.2" cy="680.0" r="1.2" fill="#d3d3d3" stroke="#fff" stroke-width=".7"/>
<circle cx="790.0" cy="696.2" r="1.2" fill="#d3d3d3" stroke="#fff" stroke-width=".7"/>
<circle cx="807.0" cy="690.0" r="1.2" fill="#d3d3d3" stroke="#fff" stroke-width=".7"/>
<circle cx="807.0" cy="700.5" r="1.2" fill="#d3d3d3" stroke="#fff" stroke-width=".7"/>
<circle cx="800.0" cy="706.2" r="1.0" fill="#d3d3d3" stroke="#fff" stroke-width=".7"/>
<circle cx="809.5" cy="717.0" r="2.2" fill="#d3d3d3" stroke="#fff" stroke-width=".7"/>
<circle cx="813.8" cy="714.5" r="1.5" fill="#d3d3d3" stroke="#fff" stroke-width=".7"/>
<circle cx="815.0" cy="731.2" r="2.4" fill="#d3d3d3" stroke="#fff" stroke-width=".7"/>
<circle cx="821.2" cy="745.8" r="2.6" fill="#d3d3d3" stroke="#fff" stroke-width=".7"/>
<circle cx="822.5" cy="760.0" r="2.0" fill="#d3d3d3" stroke="#fff" stroke-width=".7"/>
<circle cx="818.2" cy="772.5" r="1.5" fill="#d3d3d3" stroke="#fff" stroke-width=".7"/>
<circle cx="808.8" cy="793.0" r="1.5" fill="#d3d3d3" stroke="#fff" stroke-width=".7"/>
<circle cx="827.5" cy="810.0" r="1.5" fill="#d3d3d3" stroke="#fff" stroke-width=".7"/>
<circle cx="750.0" cy="687.5" r="1.5" fill="#d3d3d3" stroke="#fff" stroke-width=".7"/>
<path d="M752 671.25 L760 668.75 L761.25 672.5 L755 677Z" fill="#fff" />
<path d="M651.25 783.75 L655 787" fill="none" stroke="#fff" stroke-width="1.5" />
<path d="M670 789.5 L676.25 793.75" fill="none" stroke="#fff" stroke-width="1.8" />
<path d="M683.75 790 L687 793.75" fill="none" stroke="#fff" stroke-width="1.5" />
<path d="M711.25 796.25 L717.5 796.25 L717.5 799.5 L711.25 799.5Z" fill="#fff" />
<path d="M331.88 161.56 L324.06 174.06 L315.94 183.12 L318.12 186.25 L327.19 179.53 L330.62 175.62 L325.62 189.69 L320.94 200.62 L318.59 210 L320.16 225.62 L324.06 236.56 L330.31 240.47 L339.69 236.56 L347.5 225.62 L349.06 213.12 L345.16 202.19 L347.5 191.25 L350.62 183.44 L360 178.75 L362.34 181.56 L364.69 174.06 L372.5 170.16 L374.06 164.69 L383.44 164.38 L383.44 161.56Z" fill="#fff" />
<path d="M381.88 161.56 L383.44 166.25 L394.38 169.38 L402.97 174.06 L403.75 180.31 L402.19 188.91 L399.06 193.59 L394.38 196.72 L392.81 200.62 L397.5 202.97 L402.19 200.62 L405.31 197.5 L411.56 195.94 L416.25 200.62 L419.38 210 L421.72 214.69 L431.88 210 L434.22 203.75 L435 194.38 L439.69 186.56 L442.81 182.66 L441.25 177.19 L436.88 173.28 L445.94 180.31 L453.75 185 L464.69 186.88 L466.25 180.31 L469.69 178.75 L463.12 169.38 L456.88 164.69 L453.75 161.56Z" fill="#fff" />
<path d="M410 225.62 L414.69 220.94 L417.81 224.06 L421.25 224.84 L419.38 228.75 L410 232.97 L408.44 229.53Z" fill="#fff" />
<path d="M402.19 238.12 L408.44 233.44 L419.38 231.88 L428.75 227.97 L438.12 222.5 L450.62 220.94 L460 221.72 L470 217.81 L481.5 214.2 L488 216.8 L484 221 L470 228.75 L450.62 235 L438.12 241.25 L422.5 245.47 L410 243.12 L403.75 240Z" fill="#fff" />
<path d="M471.5 207.5 L479 201.25 L496.5 197 L519 195.5 L535.25 195 L537.75 200 L534 206.25 L519 210 L496.5 211.25 L479 211.25Z" fill="#fff" />
<path d="M536.5 195 L559 182.5 L579 171.25 L589 163.75 L559 167.5 L544 170 L527.75 163" fill="none" stroke="#fff" stroke-width="1.2" />
<path d="M592.75 177.5 L590.25 190 L585.25 206.25" fill="none" stroke="#fff" stroke-width="2" />
<ellipse cx="365.5" cy="803" rx="12.5" ry="5.5" transform="rotate(40 365.5 803)" fill="#fff"/>
<path d="M624.25 818.75 L625 823.75 L629.5 828.75 L633.75 837 L633 843.75 L628.75 848 L622.5 850 L618 845 L614.5 837 L618.75 829.5 L623 823.75Z" fill="#aaff55" />
<path d="M615 803.75 L631.25 795 L640 800 L645 807 L625 813.75 L618.75 810Z" fill="#dcff28" />
<path d="M616.25 804.25 L628.75 798.75 L635 810 L625 813.75 L618.75 810Z" fill="#ffff00" />
<path d="M616.25 804.25 L622.5 802 L627.5 812.5 L623.75 813.75 L618.75 810Z" fill="#ffcd00" />
<path d="M788.19 822.81 L798.5 821.41 L811.62 820 L813.03 827.5 L805.06 831.25 L798.5 832.65 L796.62 835 L794.75 831.25 L791 827.5Z" fill="#dcff28" />
<path d="M803.19 832.19 L815.37 832.19 L815.37 835.94 L810.69 836.4 L806 835Z" fill="#ffcd00" />
<path d="M763.81 817.19 L769.44 813.44 L773.19 814.84 L776 818.12 L776 820.94 L764.75 820.94Z" fill="#dcff28" />
<path d="M763.81 821.87 L771.31 822.34 L767.56 824.69Z" fill="#dcff28" />
<path d="M418.75 506.25 L425 515 L430 522.5 L433.75 531.25 L441.25 535 L450 535.62 L457.5 536.25 L462.5 532.5 L464.38 523.75 L464.38 515 L460 507.5 L456.25 497.5 L453.75 490 L455 490 L450 480 L445 478.12 L447.5 485 L450 495 L453.75 506.25 L455 508.75 L450 510 L442.5 511.25 L441.25 517.5 L431.25 518.12 L430.62 511.25 L425 511.25 L421.25 505Z" fill="#8b0000" />
<path d="M435 533.12 L442.5 535.62 L450 535.62 L456.88 536.25 L455 542.5 L451.25 546.88 L446.25 547.5 L443.75 542.5Z" fill="#ff7800" />
<path d="M442.5 535.62 L450 535.62 L456.88 536.25 L455 542.5 L451.25 546.25 L448.12 542.5Z" fill="#ff1400" />
<path d="M444.38 545 L448.12 543.75 L450.62 547.25 L446.25 547.75Z" fill="#ffff00" />
<path d="M446.25 515 L451.25 511.25 L454.38 515.62 L451.88 520 L446.25 515" fill="none" stroke="#e8b0a8" stroke-width="0.8" />
<path d="M380 458.5 L385 455.62 L390 453.75 L396.25 456.25 L401.25 461.25 L406.25 467.5 L411.25 470 L415.62 475 L417.5 480" fill="none" stroke="#8b0000" stroke-width="3.4" stroke-linejoin="round"/>
<path d="M409.38 470 L411.25 460 L414.38 460 L413.12 470Z" fill="#8b0000" />
<path d="M416.88 481.25 L415.62 490 L416.25 496.25 L421.25 498.75 L420 505" fill="none" stroke="#8b0000" stroke-width="1.8" stroke-dasharray="6 2"/>
<path d="M418.75 505.62 L423.75 510 L430 515 L431.25 520 L428.75 523.75 L425 518.75 L420 512.5Z" fill="#8b0000" />
<path d="M459.7 406.9h1.1v1.1h-1.1zM456.4 402.9h0.9v0.9h-0.9zM464.4 404.8h1.0v1.0h-1.0zM459.9 408.1h1.2v1.2h-1.2zM461.0 402.4h1.4v1.4h-1.4zM461.6 406.4h1.6v1.6h-1.6zM454.8 403.9h1.4v1.4h-1.4zM463.6 405.5h1.3v1.3h-1.3zM459.1 404.5h1.6v1.6h-1.6zM454.8 404.7h1.6v1.6h-1.6zM458.2 401.0h1.2v1.2h-1.2zM460.2 402.2h1.6v1.6h-1.6zM460.3 404.0h0.9v0.9h-0.9zM460.5 408.0h1.2v1.2h-1.2zM447.9 408.2h1.3v1.3h-1.3zM447.5 410.5h1.3v1.3h-1.3zM445.3 407.5h1.4v1.4h-1.4zM453.2 407.7h1.7v1.7h-1.7zM448.5 408.3h1.6v1.6h-1.6zM453.9 408.6h1.3v1.3h-1.3zM448.8 408.0h1.5v1.5h-1.5zM447.7 408.9h0.9v0.9h-0.9zM452.6 406.6h0.9v0.9h-0.9zM450.4 407.6h0.9v0.9h-0.9zM448.1 412.2h1.6v1.6h-1.6zM453.0 410.3h0.8v0.8h-0.8zM443.8 413.5h1.6v1.6h-1.6zM446.8 415.1h1.7v1.7h-1.7zM444.1 416.3h1.3v1.3h-1.3zM445.8 415.9h1.2v1.2h-1.2zM443.7 415.1h0.8v0.8h-0.8zM445.5 414.0h1.7v1.7h-1.7zM446.2 414.3h1.2v1.2h-1.2zM441.1 415.2h1.3v1.3h-1.3zM441.3 414.3h1.6v1.6h-1.6zM441.9 415.4h1.4v1.4h-1.4zM444.3 417.3h1.7v1.7h-1.7zM441.7 415.5h0.8v0.8h-0.8zM442.0 417.4h0.8v0.8h-0.8zM442.2 413.7h0.9v0.9h-0.9zM437.8 421.2h1.4v1.4h-1.4zM437.5 425.8h1.5v1.5h-1.5zM439.8 423.1h1.4v1.4h-1.4zM440.8 422.8h1.2v1.2h-1.2zM438.0 422.1h1.1v1.1h-1.1zM438.6 425.1h1.3v1.3h-1.3zM438.7 425.1h1.5v1.5h-1.5zM441.8 423.5h1.5v1.5h-1.5zM438.8 424.4h1.5v1.5h-1.5zM439.5 424.5h1.2v1.2h-1.2zM439.2 422.4h1.1v1.1h-1.1zM437.7 426.5h1.2v1.2h-1.2zM440.1 422.2h1.1v1.1h-1.1zM437.4 419.9h1.2v1.2h-1.2zM439.5 424.1h1.3v1.3h-1.3zM440.4 426.5h1.6v1.6h-1.6zM435.5 432.1h1.5v1.5h-1.5zM433.0 427.8h1.1v1.1h-1.1zM436.0 431.8h1.5v1.5h-1.5zM434.8 432.7h1.2v1.2h-1.2zM433.1 431.6h1.6v1.6h-1.6zM434.8 430.5h1.6v1.6h-1.6zM437.7 427.7h1.2v1.2h-1.2zM438.5 429.5h1.0v1.0h-1.0zM434.8 426.7h1.4v1.4h-1.4zM433.5 430.5h1.1v1.1h-1.1zM435.0 431.2h1.3v1.3h-1.3zM434.5 434.5h0.8v0.8h-0.8zM437.2 428.5h1.6v1.6h-1.6zM437.7 428.1h1.3v1.3h-1.3zM434.6 438.5h1.0v1.0h-1.0zM431.1 440.8h1.3v1.3h-1.3zM429.3 439.9h1.4v1.4h-1.4zM431.1 439.2h1.6v1.6h-1.6zM429.3 438.6h1.1v1.1h-1.1zM432.4 440.3h1.5v1.5h-1.5zM432.9 440.7h1.6v1.6h-1.6zM433.0 435.3h0.8v0.8h-0.8zM431.4 443.8h0.8v0.8h-0.8zM432.9 448.8h1.3v1.3h-1.3zM431.4 448.1h1.5v1.5h-1.5zM433.7 447.1h0.9v0.9h-0.9zM433.3 447.2h1.7v1.7h-1.7zM433.5 446.2h1.3v1.3h-1.3zM432.6 449.0h1.1v1.1h-1.1zM431.9 444.2h1.1v1.1h-1.1zM433.8 449.2h0.9v0.9h-0.9zM430.9 445.6h1.1v1.1h-1.1zM434.0 447.7h1.1v1.1h-1.1zM431.1 444.4h1.1v1.1h-1.1zM435.1 452.7h1.2v1.2h-1.2zM433.0 457.5h1.4v1.4h-1.4zM432.3 457.3h1.2v1.2h-1.2zM434.3 458.4h1.4v1.4h-1.4zM436.0 456.7h1.2v1.2h-1.2zM436.6 452.8h1.1v1.1h-1.1zM436.6 453.5h1.0v1.0h-1.0zM433.5 455.7h1.5v1.5h-1.5zM432.7 452.1h1.5v1.5h-1.5zM433.1 452.5h1.3v1.3h-1.3zM438.6 467.7h0.8v0.8h-0.8zM438.4 468.7h0.8v0.8h-0.8zM436.3 465.9h1.6v1.6h-1.6zM435.6 465.8h1.6v1.6h-1.6zM438.8 468.2h1.4v1.4h-1.4zM438.1 462.0h1.3v1.3h-1.3zM435.7 465.1h1.5v1.5h-1.5zM431.9 465.6h0.9v0.9h-0.9zM435.8 461.7h0.9v0.9h-0.9zM434.0 468.1h1.5v1.5h-1.5zM435.8 467.1h1.0v1.0h-1.0zM432.6 463.3h1.2v1.2h-1.2zM433.9 467.4h1.1v1.1h-1.1zM434.9 466.0h1.3v1.3h-1.3zM438.2 465.1h1.5v1.5h-1.5zM437.6 468.4h1.5v1.5h-1.5zM434.2 463.2h1.2v1.2h-1.2zM432.9 462.6h0.9v0.9h-0.9zM441.7 475.0h1.6v1.6h-1.6zM437.2 472.8h1.4v1.4h-1.4zM440.1 474.9h1.0v1.0h-1.0zM438.1 472.2h1.0v1.0h-1.0zM438.2 469.3h1.1v1.1h-1.1zM438.7 470.7h1.6v1.6h-1.6zM438.2 472.4h1.0v1.0h-1.0zM441.6 473.6h1.1v1.1h-1.1zM440.3 475.1h1.1v1.1h-1.1zM439.3 471.8h1.7v1.7h-1.7zM436.8 473.5h1.2v1.2h-1.2zM441.0 469.8h1.3v1.3h-1.3zM436.0 478.1h1.6v1.6h-1.6zM436.3 478.8h1.7v1.7h-1.7zM437.4 478.4h1.0v1.0h-1.0zM437.5 476.5h1.7v1.7h-1.7zM438.8 477.7h1.0v1.0h-1.0zM438.0 478.6h1.4v1.4h-1.4zM450.9 479.3h1.0v1.0h-1.0zM450.1 480.7h1.2v1.2h-1.2zM449.5 481.4h0.9v0.9h-0.9zM450.0 480.6h1.1v1.1h-1.1zM447.9 480.7h0.8v0.8h-0.8zM448.7 483.7h1.2v1.2h-1.2zM449.6 484.2h1.7v1.7h-1.7zM448.3 483.6h0.9v0.9h-0.9z" fill="#8b0000"/>
<path d="M531.25 331.25 L536.88 330 L538.75 335 L536.25 341.25 L531.88 340Z" fill="#8b0000" />
<path d="M523.1 328.9h2.0v2.0h-2.0zM525.1 329.5h2.1v2.1h-2.1zM524.8 330.4h2.1v2.1h-2.1zM523.6 328.8h1.1v1.1h-1.1zM524.0 337.6h1.7v1.7h-1.7zM525.5 337.4h1.3v1.3h-1.3zM524.6 340.6h1.9v1.9h-1.9zM527.4 340.2h1.2v1.2h-1.2zM525.1 337.0h1.0v1.0h-1.0zM526.5 336.6h1.3v1.3h-1.3zM529.0 337.1h1.3v1.3h-1.3zM527.7 336.6h1.8v1.8h-1.8zM526.3 340.7h1.8v1.8h-1.8zM529.0 336.7h1.4v1.4h-1.4zM525.0 338.4h1.2v1.2h-1.2zM526.9 337.9h1.7v1.7h-1.7zM525.1 346.9h1.4v1.4h-1.4zM520.3 349.7h1.6v1.6h-1.6zM520.5 348.6h1.8v1.8h-1.8zM526.0 348.3h1.0v1.0h-1.0zM522.0 343.7h1.0v1.0h-1.0zM522.2 344.8h1.7v1.7h-1.7zM522.4 346.9h1.2v1.2h-1.2zM522.9 346.2h1.9v1.9h-1.9zM525.6 345.3h1.4v1.4h-1.4zM519.8 348.4h1.9v1.9h-1.9zM524.3 348.4h2.0v2.0h-2.0zM521.7 346.1h2.1v2.1h-2.1zM523.4 347.6h1.7v1.7h-1.7zM523.2 345.6h2.1v2.1h-2.1zM519.9 346.3h1.4v1.4h-1.4zM522.2 347.5h1.2v1.2h-1.2zM530.5 347.1h1.2v1.2h-1.2zM535.2 349.9h1.6v1.6h-1.6zM530.5 349.7h1.7v1.7h-1.7zM532.7 348.0h1.5v1.5h-1.5zM535.3 350.3h1.0v1.0h-1.0zM528.6 349.5h1.2v1.2h-1.2zM531.2 346.7h1.8v1.8h-1.8zM531.9 348.7h1.5v1.5h-1.5zM533.8 351.1h1.4v1.4h-1.4zM527.9 349.7h2.0v2.0h-2.0zM516.0 350.1h1.6v1.6h-1.6zM514.1 348.0h1.3v1.3h-1.3zM513.6 351.2h1.5v1.5h-1.5zM517.2 350.1h1.8v1.8h-1.8zM513.0 350.7h1.1v1.1h-1.1zM513.6 353.9h2.0v2.0h-2.0zM512.3 353.1h1.9v1.9h-1.9zM513.2 347.2h1.9v1.9h-1.9zM514.9 359.6h1.3v1.3h-1.3zM513.5 358.0h1.8v1.8h-1.8zM515.6 360.2h1.8v1.8h-1.8zM516.5 357.9h1.7v1.7h-1.7zM516.7 359.9h1.6v1.6h-1.6zM517.6 356.1h2.0v2.0h-2.0zM515.0 359.3h1.9v1.9h-1.9zM517.3 356.7h2.0v2.0h-2.0zM518.4 356.3h2.2v2.2h-2.2zM519.0 357.5h1.6v1.6h-1.6zM516.6 365.1h2.1v2.1h-2.1zM512.9 363.2h1.9v1.9h-1.9zM515.2 361.9h1.9v1.9h-1.9zM513.4 361.9h1.5v1.5h-1.5zM513.5 361.0h1.8v1.8h-1.8zM515.6 362.9h1.2v1.2h-1.2zM513.5 364.0h1.3v1.3h-1.3zM514.8 361.1h1.1v1.1h-1.1zM513.4 368.3h1.1v1.1h-1.1zM515.3 368.8h1.2v1.2h-1.2zM514.3 368.1h1.6v1.6h-1.6zM512.5 368.8h1.7v1.7h-1.7zM514.7 370.0h1.0v1.0h-1.0zM513.2 368.4h1.5v1.5h-1.5zM520.9 368.5h1.4v1.4h-1.4zM521.2 367.9h1.1v1.1h-1.1zM518.0 367.0h1.7v1.7h-1.7zM521.3 367.0h1.5v1.5h-1.5zM505.9 368.8h1.4v1.4h-1.4zM506.0 371.8h1.7v1.7h-1.7zM506.6 369.7h1.7v1.7h-1.7zM497.1 376.5h1.0v1.0h-1.0zM501.4 375.5h1.7v1.7h-1.7zM501.0 375.6h2.1v2.1h-2.1zM497.6 375.7h1.3v1.3h-1.3zM498.2 376.7h1.5v1.5h-1.5zM503.1 374.3h1.7v1.7h-1.7zM498.9 376.7h1.6v1.6h-1.6zM497.2 375.0h2.2v2.2h-2.2zM505.4 376.1h1.6v1.6h-1.6zM508.3 377.0h1.5v1.5h-1.5zM505.8 377.4h2.0v2.0h-2.0zM508.8 376.3h1.3v1.3h-1.3zM509.3 375.6h1.3v1.3h-1.3zM490.1 382.7h2.2v2.2h-2.2zM489.9 384.0h1.6v1.6h-1.6zM489.0 380.8h1.9v1.9h-1.9zM492.5 383.8h1.4v1.4h-1.4zM489.1 382.2h1.4v1.4h-1.4zM488.7 382.1h1.4v1.4h-1.4zM490.7 380.9h1.0v1.0h-1.0zM490.2 383.5h2.1v2.1h-2.1zM479.8 384.8h1.0v1.0h-1.0zM478.2 384.2h1.7v1.7h-1.7zM477.4 383.9h1.6v1.6h-1.6zM479.4 384.9h1.5v1.5h-1.5zM478.7 385.0h1.4v1.4h-1.4zM478.0 385.0h2.0v2.0h-2.0zM477.5 384.4h1.3v1.3h-1.3zM478.7 383.7h1.2v1.2h-1.2zM480.9 387.0h1.6v1.6h-1.6zM482.5 387.4h1.7v1.7h-1.7zM483.3 386.4h1.3v1.3h-1.3zM484.0 384.2h1.8v1.8h-1.8zM485.1 386.8h2.2v2.2h-2.2zM485.7 386.9h1.1v1.1h-1.1zM483.5 385.7h1.8v1.8h-1.8zM479.1 392.1h1.2v1.2h-1.2zM472.9 397.1h1.2v1.2h-1.2zM471.8 391.6h1.2v1.2h-1.2zM473.9 392.8h1.1v1.1h-1.1zM473.7 393.7h1.1v1.1h-1.1zM469.5 391.1h2.1v2.1h-2.1zM476.6 394.9h1.4v1.4h-1.4zM470.9 391.1h2.1v2.1h-2.1zM473.5 393.2h1.8v1.8h-1.8zM476.8 395.5h1.6v1.6h-1.6zM477.6 391.3h1.7v1.7h-1.7zM474.0 396.0h1.3v1.3h-1.3zM474.4 390.4h1.2v1.2h-1.2zM474.4 395.0h1.9v1.9h-1.9zM476.2 396.0h1.8v1.8h-1.8zM478.5 394.9h1.1v1.1h-1.1zM477.4 395.3h1.3v1.3h-1.3zM477.0 391.2h1.4v1.4h-1.4zM474.2 392.5h1.9v1.9h-1.9zM475.5 393.1h2.1v2.1h-2.1zM473.5 391.8h1.1v1.1h-1.1zM478.6 392.2h2.0v2.0h-2.0zM469.5 393.2h1.4v1.4h-1.4zM468.0 392.8h1.7v1.7h-1.7zM467.2 393.0h1.2v1.2h-1.2zM468.9 389.9h2.0v2.0h-2.0zM465.4 392.6h1.6v1.6h-1.6zM466.0 390.6h1.9v1.9h-1.9zM455.9 404.9h1.0v1.0h-1.0zM456.7 404.3h2.1v2.1h-2.1zM451.4 404.9h1.0v1.0h-1.0zM450.4 404.8h1.7v1.7h-1.7zM453.3 405.4h1.1v1.1h-1.1zM457.8 405.1h1.4v1.4h-1.4zM452.2 406.7h1.2v1.2h-1.2zM456.8 405.9h1.2v1.2h-1.2zM456.1 405.5h1.6v1.6h-1.6zM463.2 405.0h1.4v1.4h-1.4zM461.5 403.0h1.8v1.8h-1.8zM450.4 405.1h1.1v1.1h-1.1zM455.2 402.7h1.8v1.8h-1.8zM456.6 403.3h1.2v1.2h-1.2zM459.4 404.7h1.1v1.1h-1.1zM451.3 406.4h1.4v1.4h-1.4zM455.3 406.4h1.3v1.3h-1.3zM456.3 401.4h1.2v1.2h-1.2zM456.7 406.8h2.1v2.1h-2.1zM454.1 402.3h2.2v2.2h-2.2zM447.1 410.3h1.9v1.9h-1.9zM446.2 410.6h1.7v1.7h-1.7zM449.5 410.4h1.4v1.4h-1.4zM447.0 410.5h2.1v2.1h-2.1zM442.8 410.9h1.1v1.1h-1.1zM446.8 411.0h1.5v1.5h-1.5zM448.3 411.0h1.5v1.5h-1.5zM446.8 411.2h1.0v1.0h-1.0zM448.0 410.2h1.6v1.6h-1.6zM444.7 412.1h1.1v1.1h-1.1zM446.3 411.2h1.7v1.7h-1.7zM449.2 409.0h2.0v2.0h-2.0zM441.7 418.2h1.6v1.6h-1.6zM439.7 418.3h1.5v1.5h-1.5zM439.7 415.2h2.1v2.1h-2.1zM440.9 420.1h2.0v2.0h-2.0zM441.9 419.0h1.4v1.4h-1.4zM443.7 419.7h2.0v2.0h-2.0zM441.7 419.2h1.1v1.1h-1.1zM441.8 418.8h1.5v1.5h-1.5zM440.9 417.5h1.1v1.1h-1.1zM441.8 417.6h1.2v1.2h-1.2z" fill="#8b0000"/>
<path d="M540 331.25 L543.75 337.5 L547.5 347.5 L550.62 355 L550 361.25 L540 365 L532.5 367.5 L527.5 362.5 L531.25 357.5 L536.25 355 L535 347.5 L537.5 341.25Z" fill="#dcff28" />
<path d="M528.75 343.75 L538.75 342.5 L545 343.75 L546.25 350 L541.25 355 L536.25 356.25 L535 348.75 L529.38 347.5Z" fill="#ffa000" />
<path d="M527.5 358.75 L535 356.88 L540 360 L537.5 365 L530 364.38Z" fill="#ffff00" />
<path d="M543.1 301.7h1.4v1.4h-1.4zM550.2 302.3h1.2v1.2h-1.2zM550.3 301.8h0.9v0.9h-0.9zM543.1 300.1h1.0v1.0h-1.0zM536.7 303.5h1.0v1.0h-1.0zM545.4 306.3h1.6v1.6h-1.6zM539.6 296.8h1.6v1.6h-1.6zM553.1 302.0h1.1v1.1h-1.1zM545.8 301.2h1.1v1.1h-1.1zM545.6 296.6h1.3v1.3h-1.3zM541.1 295.5h1.3v1.3h-1.3zM545.8 300.0h1.0v1.0h-1.0zM542.1 294.4h1.1v1.1h-1.1zM539.5 296.5h1.1v1.1h-1.1zM546.6 292.0h1.1v1.1h-1.1zM538.6 296.4h1.5v1.5h-1.5zM543.7 295.1h1.6v1.6h-1.6zM548.3 303.0h1.4v1.4h-1.4zM548.0 304.5h0.9v0.9h-0.9zM540.3 292.1h1.3v1.3h-1.3zM547.5 296.2h1.4v1.4h-1.4zM538.7 295.6h1.2v1.2h-1.2zM549.5 291.3h1.2v1.2h-1.2zM543.6 298.1h1.4v1.4h-1.4zM538.3 291.3h1.5v1.5h-1.5zM543.2 304.3h1.4v1.4h-1.4zM532.5 335.1h1.0v1.0h-1.0zM530.9 334.9h1.4v1.4h-1.4zM531.5 336.3h1.2v1.2h-1.2zM531.0 333.5h1.2v1.2h-1.2zM527.8 332.3h1.5v1.5h-1.5zM531.5 332.3h1.2v1.2h-1.2zM528.7 339.1h1.6v1.6h-1.6zM531.3 336.1h1.1v1.1h-1.1zM530.8 338.5h1.3v1.3h-1.3zM530.6 334.5h1.2v1.2h-1.2zM529.0 337.6h1.6v1.6h-1.6zM529.9 330.3h1.3v1.3h-1.3zM530.3 333.4h1.5v1.5h-1.5zM531.1 328.1h1.5v1.5h-1.5zM529.5 336.8h1.0v1.0h-1.0zM530.5 333.8h0.9v0.9h-0.9zM530.9 336.3h1.1v1.1h-1.1zM530.8 334.5h1.0v1.0h-1.0zM532.0 336.6h0.9v0.9h-0.9zM532.3 331.0h1.0v1.0h-1.0zM530.7 337.7h1.2v1.2h-1.2zM532.4 338.5h1.6v1.6h-1.6zM528.9 335.4h1.0v1.0h-1.0zM531.9 336.4h1.1v1.1h-1.1zM531.2 332.9h0.9v0.9h-0.9zM532.7 333.2h1.0v1.0h-1.0zM530.4 334.2h1.3v1.3h-1.3zM533.4 333.5h1.4v1.4h-1.4zM530.6 337.9h1.0v1.0h-1.0zM530.8 329.9h1.4v1.4h-1.4zM523.3 338.9h1.5v1.5h-1.5zM529.3 336.2h1.5v1.5h-1.5zM526.4 331.9h1.1v1.1h-1.1zM521.8 336.7h0.9v0.9h-0.9zM526.7 337.5h1.1v1.1h-1.1zM522.5 330.7h1.2v1.2h-1.2zM529.4 334.1h1.6v1.6h-1.6zM523.2 338.8h1.1v1.1h-1.1zM524.9 339.0h1.3v1.3h-1.3zM528.4 333.3h1.2v1.2h-1.2zM521.8 332.2h1.0v1.0h-1.0zM521.5 331.3h1.4v1.4h-1.4zM524.5 332.9h1.0v1.0h-1.0zM524.9 333.7h1.5v1.5h-1.5zM527.3 336.3h1.2v1.2h-1.2zM528.7 335.2h1.0v1.0h-1.0zM525.3 338.0h1.5v1.5h-1.5zM524.8 335.1h1.5v1.5h-1.5zM537.5 334.0h1.1v1.1h-1.1zM535.2 334.2h0.9v0.9h-0.9zM537.4 333.8h1.3v1.3h-1.3zM536.8 333.3h1.5v1.5h-1.5zM536.1 333.2h1.1v1.1h-1.1zM535.3 335.9h1.3v1.3h-1.3zM535.7 336.9h1.0v1.0h-1.0zM536.7 333.3h1.2v1.2h-1.2zM533.6 332.4h1.2v1.2h-1.2zM537.0 333.0h1.3v1.3h-1.3zM574.2 256.9h1.2v1.2h-1.2zM574.3 256.8h1.5v1.5h-1.5zM575.3 258.8h1.4v1.4h-1.4zM600.3 242.7h1.3v1.3h-1.3zM599.0 242.5h1.0v1.0h-1.0zM600.6 242.9h1.1v1.1h-1.1z" fill="#8b0000"/>
<path d="M531.25 331.25 L535.62 330 L536.25 340 L532.5 341.88Z" fill="#8b0000" />
<path d="M539.9 301.3h1.1v1.1h-1.1zM539.3 299.1h1.1v1.1h-1.1zM540.4 299.3h1.3v1.3h-1.3zM537.6 299.6h1.2v1.2h-1.2zM540.5 301.0h1.0v1.0h-1.0z" fill="#ffff00"/>
<path d="M579.38 235 L579.62 251.25" fill="none" stroke="#ffff00" stroke-width="0.9" stroke-dasharray="1.2 3"/>
<path d="M278.12 461.88 L285 463.75 L291.25 470 L297.75 475 L296.5 477.25 L288.75 472.75 L282.5 468.12 L277.25 464Z" fill="#dcdcd0" />
<path d="M267.0 469.4h1.4v1.4h-1.4zM263.2 468.2h1.1v1.1h-1.1zM265.6 474.0h1.1v1.1h-1.1zM263.9 465.2h1.1v1.1h-1.1zM257.3 468.6h1.4v1.4h-1.4zM266.9 469.5h1.0v1.0h-1.0zM270.5 468.3h1.2v1.2h-1.2zM261.0 471.5h2.0v2.0h-2.0zM265.3 471.1h1.6v1.6h-1.6zM252.5 467.5h1.8v1.8h-1.8zM261.6 470.5h1.8v1.8h-1.8zM265.2 469.1h1.7v1.7h-1.7zM270.7 466.3h1.2v1.2h-1.2zM267.3 465.1h1.2v1.2h-1.2zM261.7 468.0h1.0v1.0h-1.0zM261.3 471.5h1.4v1.4h-1.4zM257.4 465.1h2.0v2.0h-2.0zM276.4 468.3h1.8v1.8h-1.8zM262.9 470.8h1.6v1.6h-1.6zM255.4 468.2h1.1v1.1h-1.1zM268.4 474.2h1.6v1.6h-1.6zM263.5 468.3h1.4v1.4h-1.4zM271.8 466.8h2.0v2.0h-2.0zM266.5 472.2h1.8v1.8h-1.8zM254.3 470.8h1.6v1.6h-1.6zM265.8 469.8h2.0v2.0h-2.0zM277.2 462.1h1.3v1.3h-1.3zM271.7 454.5h1.5v1.5h-1.5zM263.8 460.7h1.3v1.3h-1.3zM268.0 463.9h1.6v1.6h-1.6zM277.1 461.0h1.1v1.1h-1.1zM272.5 455.0h2.0v2.0h-2.0zM274.6 457.7h1.8v1.8h-1.8zM280.4 460.4h1.0v1.0h-1.0zM270.8 462.7h1.2v1.2h-1.2zM276.9 460.8h1.9v1.9h-1.9zM282.8 462.2h1.2v1.2h-1.2zM278.1 466.2h1.3v1.3h-1.3zM277.1 464.0h1.7v1.7h-1.7zM263.2 459.6h1.4v1.4h-1.4zM264.5 459.7h1.5v1.5h-1.5zM272.9 456.7h1.1v1.1h-1.1zM281.6 464.4h1.7v1.7h-1.7zM283.2 458.6h1.6v1.6h-1.6zM280.1 466.0h1.1v1.1h-1.1zM271.5 461.4h1.4v1.4h-1.4zM271.7 463.9h1.7v1.7h-1.7zM269.6 459.7h1.8v1.8h-1.8zM273.5 454.7h1.0v1.0h-1.0zM265.7 456.4h1.3v1.3h-1.3zM277.5 466.3h1.4v1.4h-1.4zM265.5 464.0h1.4v1.4h-1.4zM275.7 462.8h1.3v1.3h-1.3zM272.1 457.1h1.8v1.8h-1.8zM278.5 461.5h1.6v1.6h-1.6zM266.4 460.8h1.9v1.9h-1.9z" fill="#d3d3d3"/>
<path d="M363.75 457.5 L367.5 455 L371.25 453.75 L375 457.5 L378 457.5 L378 463.12 L367.5 462.5Z" fill="#8b0000" />
<path d="M251.25 456.25 L256.25 457.5 L263.75 465 L257.5 463.75 L252.5 461.25Z" fill="#ff4600" />
<path d="M253.75 465.62 L262.5 465 L266.25 470 L258.75 471.25Z" fill="#ffa000" />
<path d="M278.75 460 L285 461.25 L284.38 466.25 L279.38 464.38Z" fill="#ffa000" />
<path d="M264.5 461.3h1.1v1.1h-1.1zM268.2 460.4h1.4v1.4h-1.4zM269.1 460.0h1.4v1.4h-1.4zM267.5 460.2h1.3v1.3h-1.3zM266.7 457.4h1.6v1.6h-1.6zM269.7 462.4h1.1v1.1h-1.1zM260.9 460.3h1.5v1.5h-1.5zM268.5 457.6h1.6v1.6h-1.6zM270.5 461.9h1.5v1.5h-1.5zM267.6 457.7h1.1v1.1h-1.1zM267.9 462.5h1.2v1.2h-1.2zM268.8 458.7h1.7v1.7h-1.7zM268.8 460.1h1.3v1.3h-1.3zM267.5 460.6h1.3v1.3h-1.3zM269.4 459.8h1.5v1.5h-1.5zM271.6 463.0h1.7v1.7h-1.7zM274.6 469.6h1.1v1.1h-1.1zM273.9 469.4h1.1v1.1h-1.1zM264.9 469.4h1.3v1.3h-1.3zM268.6 471.1h1.1v1.1h-1.1zM271.7 468.7h1.5v1.5h-1.5zM275.5 469.2h1.4v1.4h-1.4zM272.3 468.8h1.2v1.2h-1.2zM284.4 469.3h1.1v1.1h-1.1zM271.7 465.9h1.2v1.2h-1.2zM273.5 469.1h1.3v1.3h-1.3zM271.0 466.9h1.6v1.6h-1.6zM278.2 470.1h1.7v1.7h-1.7zM269.4 468.3h1.3v1.3h-1.3zM281.3 469.3h1.0v1.0h-1.0z" fill="#ffff00"/>
<path d="M266.3 466.5h1.1v1.1h-1.1zM278.2 473.8h1.3v1.3h-1.3zM271.9 466.6h1.1v1.1h-1.1zM271.4 470.4h1.4v1.4h-1.4zM276.2 468.1h1.3v1.3h-1.3zM267.9 466.1h1.0v1.0h-1.0zM270.1 464.6h1.2v1.2h-1.2zM272.3 466.7h1.3v1.3h-1.3zM290.2 467.4h1.2v1.2h-1.2zM274.9 468.3h0.9v0.9h-0.9zM281.1 467.2h1.0v1.0h-1.0zM280.2 466.4h1.1v1.1h-1.1zM272.2 468.6h1.2v1.2h-1.2zM277.0 466.7h0.9v0.9h-0.9zM273.1 468.6h1.1v1.1h-1.1zM279.5 463.5h1.1v1.1h-1.1zM277.1 466.7h1.1v1.1h-1.1zM266.6 471.7h0.9v0.9h-0.9zM275.1 467.0h0.9v0.9h-0.9zM280.0 462.0h1.1v1.1h-1.1zM269.3 469.6h1.0v1.0h-1.0zM271.0 466.9h0.9v0.9h-0.9zM270.0 468.7h1.2v1.2h-1.2zM280.3 463.0h1.1v1.1h-1.1zM269.4 471.5h0.8v0.8h-0.8zM272.8 465.2h1.0v1.0h-1.0zM282.5 470.1h1.1v1.1h-1.1zM263.0 472.1h1.2v1.2h-1.2zM274.9 472.5h1.3v1.3h-1.3zM263.3 467.7h0.8v0.8h-0.8zM265.0 468.5h1.0v1.0h-1.0zM264.6 470.5h1.1v1.1h-1.1zM269.9 468.3h1.1v1.1h-1.1zM283.2 467.6h0.8v0.8h-0.8zM285.1 468.4h0.8v0.8h-0.8zM277.3 469.0h1.1v1.1h-1.1zM284.2 468.0h1.1v1.1h-1.1zM265.2 469.9h1.1v1.1h-1.1zM272.1 461.8h1.2v1.2h-1.2zM263.7 470.4h1.3v1.3h-1.3zM290.5 474.1h1.2v1.2h-1.2zM288.0 471.1h1.2v1.2h-1.2zM290.8 471.5h1.3v1.3h-1.3zM292.1 472.7h1.3v1.3h-1.3zM288.7 470.5h0.8v0.8h-0.8zM292.9 471.7h1.4v1.4h-1.4zM291.5 473.0h1.2v1.2h-1.2zM291.5 474.8h1.4v1.4h-1.4zM290.4 474.7h0.8v0.8h-0.8zM290.1 474.3h0.9v0.9h-0.9z" fill="#fff"/>
<path d="M250.6 448.1h1.5v1.5h-1.5zM250.8 447.8h1.3v1.3h-1.3zM254.0 450.8h1.3v1.3h-1.3zM253.4 445.7h1.1v1.1h-1.1zM255.8 450.0h1.3v1.3h-1.3zM256.6 448.5h1.5v1.5h-1.5zM251.7 443.0h1.0v1.0h-1.0zM275.7 449.6h0.9v0.9h-0.9zM274.8 450.0h0.9v0.9h-0.9zM273.3 449.5h1.4v1.4h-1.4zM283.4 450.5h1.2v1.2h-1.2zM284.8 449.8h1.1v1.1h-1.1zM288.7 450.5h1.4v1.4h-1.4zM285.4 449.9h1.0v1.0h-1.0zM285.5 450.9h1.4v1.4h-1.4zM283.4 451.7h1.1v1.1h-1.1zM298.7 449.3h0.9v0.9h-0.9zM297.3 450.5h1.2v1.2h-1.2zM298.0 449.4h0.9v0.9h-0.9zM303.0 442.9h1.1v1.1h-1.1zM305.2 447.5h1.5v1.5h-1.5zM304.5 445.1h1.0v1.0h-1.0zM304.6 446.7h1.4v1.4h-1.4zM305.1 449.7h1.2v1.2h-1.2zM305.2 450.6h1.0v1.0h-1.0zM304.1 445.3h1.2v1.2h-1.2zM304.5 448.3h1.5v1.5h-1.5zM359.8 450.8h1.4v1.4h-1.4zM359.8 453.1h1.4v1.4h-1.4zM358.8 451.4h1.5v1.5h-1.5zM359.7 452.8h1.4v1.4h-1.4zM358.8 453.0h0.9v0.9h-0.9zM326.4 449.3h1.0v1.0h-1.0zM325.2 448.4h1.2v1.2h-1.2z" fill="#8b0000"/>
<path d="M244.3 442.2h1.4v1.4h-1.4zM246.8 442.0h1.2v1.2h-1.2zM246.2 444.5h1.4v1.4h-1.4zM244.9 440.6h1.4v1.4h-1.4zM247.8 443.4h1.0v1.0h-1.0zM246.9 441.5h1.5v1.5h-1.5zM248.8 443.0h1.1v1.1h-1.1zM244.5 443.6h0.9v0.9h-0.9zM249.3 443.0h1.3v1.3h-1.3zM249.1 443.4h1.6v1.6h-1.6zM247.1 454.2h1.0v1.0h-1.0zM244.5 456.1h1.0v1.0h-1.0zM245.3 451.3h1.0v1.0h-1.0zM246.2 448.9h1.2v1.2h-1.2zM243.6 449.8h1.2v1.2h-1.2zM248.2 452.7h1.6v1.6h-1.6zM248.2 451.2h1.1v1.1h-1.1zM243.4 455.5h1.4v1.4h-1.4zM237.5 456.9h1.2v1.2h-1.2zM233.9 456.1h1.3v1.3h-1.3zM239.3 456.7h1.2v1.2h-1.2zM235.6 456.2h1.2v1.2h-1.2zM198.1 457.8h1.0v1.0h-1.0zM199.2 454.5h1.4v1.4h-1.4zM201.9 455.5h1.1v1.1h-1.1zM200.1 454.5h1.2v1.2h-1.2zM200.8 457.0h1.2v1.2h-1.2zM202.4 454.1h1.6v1.6h-1.6zM202.2 459.2h1.2v1.2h-1.2zM201.4 458.6h1.5v1.5h-1.5zM201.8 455.0h1.4v1.4h-1.4zM199.8 456.7h0.9v0.9h-0.9zM202.8 455.7h1.6v1.6h-1.6zM202.9 455.1h0.9v0.9h-0.9zM208.1 454.8h1.5v1.5h-1.5zM208.5 451.6h1.3v1.3h-1.3zM207.4 452.9h1.1v1.1h-1.1zM211.4 451.7h1.0v1.0h-1.0zM218.6 453.6h1.1v1.1h-1.1zM220.5 451.4h1.4v1.4h-1.4zM219.0 451.3h1.1v1.1h-1.1zM187.8 459.8h1.4v1.4h-1.4zM189.1 459.6h1.2v1.2h-1.2zM187.8 459.1h1.6v1.6h-1.6zM186.5 456.5h1.5v1.5h-1.5zM181.8 462.3h1.2v1.2h-1.2zM180.2 461.8h1.5v1.5h-1.5zM173.4 473.4h1.2v1.2h-1.2zM174.2 472.9h0.9v0.9h-0.9zM173.6 472.2h1.5v1.5h-1.5zM175.5 472.9h1.3v1.3h-1.3zM162.4 478.7h1.0v1.0h-1.0zM160.1 479.8h1.6v1.6h-1.6zM160.4 478.4h1.3v1.3h-1.3zM163.8 480.0h1.4v1.4h-1.4zM160.2 479.8h1.2v1.2h-1.2zM160.0 480.6h1.0v1.0h-1.0zM153.2 486.9h1.4v1.4h-1.4zM151.7 483.8h1.6v1.6h-1.6zM151.4 486.5h1.2v1.2h-1.2zM150.3 486.5h1.4v1.4h-1.4zM150.8 487.3h1.1v1.1h-1.1zM151.8 486.3h1.2v1.2h-1.2zM151.4 487.3h1.2v1.2h-1.2zM152.4 489.1h1.3v1.3h-1.3zM151.2 485.4h1.2v1.2h-1.2zM148.7 484.6h1.1v1.1h-1.1zM135.8 536.1h1.5v1.5h-1.5zM139.4 537.3h1.4v1.4h-1.4zM136.8 536.9h1.4v1.4h-1.4zM141.5 535.2h1.4v1.4h-1.4zM137.4 537.5h1.1v1.1h-1.1zM137.4 535.7h1.1v1.1h-1.1zM140.0 536.4h1.3v1.3h-1.3zM139.0 535.8h1.5v1.5h-1.5zM138.3 538.2h1.3v1.3h-1.3zM136.4 537.1h1.5v1.5h-1.5zM138.7 536.2h1.3v1.3h-1.3zM140.5 533.9h1.4v1.4h-1.4zM136.9 536.8h1.1v1.1h-1.1zM137.6 536.5h1.2v1.2h-1.2zM136.6 537.2h1.0v1.0h-1.0zM139.4 536.5h1.6v1.6h-1.6zM136.0 524.1h1.5v1.5h-1.5zM139.3 520.1h1.2v1.2h-1.2zM136.6 521.5h1.0v1.0h-1.0zM139.3 519.9h1.0v1.0h-1.0zM136.9 524.1h1.1v1.1h-1.1zM138.0 524.7h1.0v1.0h-1.0zM136.3 521.6h1.0v1.0h-1.0zM137.3 527.0h1.5v1.5h-1.5zM135.9 523.4h1.4v1.4h-1.4zM134.2 523.5h1.3v1.3h-1.3zM132.3 502.4h1.3v1.3h-1.3zM132.6 504.9h1.3v1.3h-1.3zM132.6 512.9h1.3v1.3h-1.3zM133.6 505.2h1.5v1.5h-1.5zM130.7 509.8h1.4v1.4h-1.4zM136.9 507.3h1.2v1.2h-1.2zM131.8 513.2h1.4v1.4h-1.4zM134.8 507.5h0.9v0.9h-0.9zM133.5 542.4h0.9v0.9h-0.9zM134.2 542.1h1.0v1.0h-1.0zM131.8 539.3h1.6v1.6h-1.6zM135.2 541.0h1.6v1.6h-1.6zM133.8 542.0h1.5v1.5h-1.5z" fill="#8b0000"/>
<path d="M210.2 457.6h1.4v1.4h-1.4zM210.9 455.8h1.1v1.1h-1.1zM210.8 456.7h1.4v1.4h-1.4zM211.5 457.2h1.1v1.1h-1.1zM249.8 458.7h1.5v1.5h-1.5zM250.3 457.5h1.2v1.2h-1.2zM252.0 459.2h1.5v1.5h-1.5zM251.2 455.3h1.4v1.4h-1.4zM252.9 456.9h1.2v1.2h-1.2zM251.4 456.2h1.5v1.5h-1.5zM198.2 462.2h1.2v1.2h-1.2zM198.5 462.8h1.1v1.1h-1.1zM199.6 461.4h1.6v1.6h-1.6z" fill="#ff7800"/>
<path d="M189.5 465.9h1.9v1.9h-1.9zM188.9 464.5h1.5v1.5h-1.5zM187.5 463.0h1.5v1.5h-1.5zM186.9 463.4h2.0v2.0h-2.0zM188.3 465.2h2.1v2.1h-2.1zM186.7 465.4h2.0v2.0h-2.0zM187.1 464.3h1.8v1.8h-1.8zM187.1 464.1h1.9v1.9h-1.9zM244.3 463.6h1.3v1.3h-1.3zM243.9 464.4h1.6v1.6h-1.6zM245.0 462.8h1.8v1.8h-1.8zM245.2 462.2h1.3v1.3h-1.3zM240.1 462.5h1.4v1.4h-1.4zM245.9 463.7h1.7v1.7h-1.7zM144.8 496.0h1.4v1.4h-1.4zM144.8 492.5h1.3v1.3h-1.3zM144.3 493.7h1.5v1.5h-1.5zM147.1 494.8h1.3v1.3h-1.3zM143.2 494.1h1.7v1.7h-1.7zM143.0 492.3h1.7v1.7h-1.7zM150.9 489.2h1.8v1.8h-1.8zM153.1 489.9h1.4v1.4h-1.4zM153.4 488.0h1.3v1.3h-1.3zM138.5 550.2h1.8v1.8h-1.8zM138.9 548.0h2.1v2.1h-2.1zM136.8 548.7h1.8v1.8h-1.8zM138.4 547.4h1.5v1.5h-1.5zM216.8 460.4h1.7v1.7h-1.7zM216.6 460.3h1.2v1.2h-1.2zM215.9 460.8h1.8v1.8h-1.8z" fill="#aaff55"/>
<path d="M225.4 459.2h1.6v1.6h-1.6zM228.5 461.0h1.0v1.0h-1.0zM228.3 458.2h1.7v1.7h-1.7zM227.4 459.4h1.3v1.3h-1.3zM224.8 458.7h1.2v1.2h-1.2zM225.8 460.8h1.7v1.7h-1.7zM225.7 458.5h1.7v1.7h-1.7zM223.3 459.3h1.4v1.4h-1.4zM206.2 459.4h1.5v1.5h-1.5zM205.6 459.8h1.7v1.7h-1.7zM205.8 458.6h1.7v1.7h-1.7z" fill="#ffff00"/>
<circle cx="478" cy="187.5" r="3" fill="#fff"/>
<path d="M518.75 217.5 L520 225.5" fill="none" stroke="#fff" stroke-width="0.9" />
<path d="M524.25 217 L525 227" fill="none" stroke="#fff" stroke-width="0.9" />
<path d="M528.25 216.5 L531.25 224" fill="none" stroke="#fff" stroke-width="0.9" />
<path d="M532.5 216 L536.25 220" fill="none" stroke="#fff" stroke-width="0.9" />
<path d="M538.75 210.5 L546.25 211.75" fill="none" stroke="#fff" stroke-width="0.9" />
<path d="M536.5 195 L542 190 L549 186" fill="none" stroke="#fff" stroke-width="2.4" />
<path d="M148 383 L152 384.5 L154 382.5 L157 383 L157 387.5 L151 387.5Z" fill="#fff" />
<path d="M312 326.5 L315 333 L316.5 341 L318 347" fill="none" stroke="#fff" stroke-width="1.3" />
<path d="M315 327 L317.5 334 L318.5 340" fill="none" stroke="#fff" stroke-width="0.9" />
<path d="M323 368.5 L328 367.8 L333 369.5 L337 372.5" fill="none" stroke="#fff" stroke-width="1" />
<path d="M213 372 L219 371.2" fill="none" stroke="#fff" stroke-width="1.3" />
<path d="M230.5 185 L235 186.5 L239 189" fill="none" stroke="#fff" stroke-width="0.9" />
<path d="M254 197.5 L256 203 L256.5 208 L258.5 213.5" fill="none" stroke="#fff" stroke-width="0.8" />
<path d="M279.5 192.5 L278.5 198.5" fill="none" stroke="#fff" stroke-width="1.2" />
<ellipse cx="308.6" cy="196" rx="1.8" ry="3.6" fill="#fff"/>
<path d="M364 335.5 L367.5 334 L370.5 335.5" fill="none" stroke="#fff" stroke-width="1" />
<path d="M204 421 L206.5 426 L208 432 L211 436" fill="none" stroke="#fff" stroke-width="2" />
<path d="M374 442 L378 444.5" fill="none" stroke="#fff" stroke-width="1.6" />
<path d="M470 324 L475 326.5" fill="none" stroke="#fff" stroke-width="1.2" />
<path d="M490 333 L496 336.5 L499 335" fill="none" stroke="#fff" stroke-width="1.3" />
<path d="M501 336 L509 337" fill="none" stroke="#fff" stroke-width="1.3" />
<path d="M389 381 L395 375.5" fill="none" stroke="#fff" stroke-width="1.4" />
<path d="M408 373 L414 376" fill="none" stroke="#fff" stroke-width="1.4" />
<path d="M418 384.5 L422 389 L425 389.5" fill="none" stroke="#fff" stroke-width="1.4" />
<path d="M438 382 L444 382" fill="none" stroke="#fff" stroke-width="1.2" />
<path d="M456 392 L462 395 L466 394" fill="none" stroke="#fff" stroke-width="1.2" />
<path d="M440 381 L447 383" fill="none" stroke="#fff" stroke-width="1" />
<path d="M434.6 483.5h1.3v1.3h-1.3zM431.8 481.9h1.4v1.4h-1.4zM434.0 480.4h1.2v1.2h-1.2zM433.2 482.0h1.1v1.1h-1.1zM440.2 494.0h1.4v1.4h-1.4zM440.9 496.1h0.9v0.9h-0.9zM442.6 494.2h1.4v1.4h-1.4zM440.5 494.2h1.1v1.1h-1.1zM440.0 494.3h1.5v1.5h-1.5zM441.6 507.1h1.4v1.4h-1.4zM442.8 507.8h1.2v1.2h-1.2z" fill="#fff"/>
<ellipse cx="249.5" cy="671.5" rx="6" ry="3" fill="#fff"/>
<path d="M320 770.5 L324 769 L328.5 774 L327 778.5 L323.5 775Z" fill="#fff" />
<ellipse cx="348.6" cy="789.4" rx="3.6" ry="2.2" transform="rotate(35 348.6 789.4)" fill="#fff"/>
<path d="M153.5 675.5 L158.5 680.5" fill="none" stroke="#fff" stroke-width="2" />
<path d="M224.5 714.5 L231 717.5 L239 722" fill="none" stroke="#fff" stroke-width="1.6" />
<path d="M227 716 L229 720" fill="none" stroke="#fff" stroke-width="1.2" />
<path d="M291 730.5 L297.5 728" fill="none" stroke="#fff" stroke-width="2" />
<path d="M208.5 699 L215 700.8" fill="none" stroke="#fff" stroke-width="1.6" />
<path d="M175.5 708 L176.5 711" fill="none" stroke="#fff" stroke-width="1.6" />
<path d="M421.25 596.25 L433.75 596.25 L435 598.12 L427.5 600.62 L420 598.75Z" fill="#55ffaa" />
<path d="M456.7 406.1h0.9v0.9h-0.9zM461.8 403.7h1.2v1.2h-1.2zM455.1 404.4h1.2v1.2h-1.2zM453.5 403.6h1.2v1.2h-1.2zM460.2 403.4h0.9v0.9h-0.9zM461.2 407.6h0.9v0.9h-0.9zM455.8 403.0h0.8v0.8h-0.8zM458.2 404.6h1.3v1.3h-1.3zM459.3 403.9h1.2v1.2h-1.2zM458.0 404.2h1.2v1.2h-1.2zM462.3 407.5h1.2v1.2h-1.2zM459.1 405.1h1.0v1.0h-1.0zM455.1 403.4h0.9v0.9h-0.9zM462.5 403.0h1.0v1.0h-1.0zM461.1 407.3h1.0v1.0h-1.0zM456.3 403.2h1.0v1.0h-1.0zM449.6 410.2h1.1v1.1h-1.1zM447.7 408.0h1.2v1.2h-1.2zM443.2 409.2h1.2v1.2h-1.2zM447.7 411.1h0.8v0.8h-0.8zM453.0 410.8h1.3v1.3h-1.3zM448.2 409.2h1.2v1.2h-1.2zM451.8 412.5h1.2v1.2h-1.2zM448.2 407.4h1.1v1.1h-1.1zM451.4 407.2h0.9v0.9h-0.9zM444.0 411.2h1.2v1.2h-1.2zM445.3 411.1h1.4v1.4h-1.4zM447.8 411.3h1.2v1.2h-1.2zM447.4 413.6h1.0v1.0h-1.0zM450.6 409.1h1.3v1.3h-1.3zM443.3 412.9h0.9v0.9h-0.9zM443.5 416.8h0.9v0.9h-0.9zM442.9 415.8h0.9v0.9h-0.9zM442.0 415.9h1.0v1.0h-1.0zM443.8 419.7h0.9v0.9h-0.9zM446.6 416.2h1.2v1.2h-1.2zM440.2 415.3h1.4v1.4h-1.4zM446.8 414.1h0.8v0.8h-0.8zM439.1 414.0h1.2v1.2h-1.2zM439.6 416.2h0.9v0.9h-0.9zM442.7 412.8h0.8v0.8h-0.8zM439.8 416.2h1.0v1.0h-1.0zM441.1 412.4h1.3v1.3h-1.3zM442.6 417.3h1.3v1.3h-1.3zM439.7 413.7h1.3v1.3h-1.3zM442.6 419.3h1.0v1.0h-1.0zM439.1 420.2h0.9v0.9h-0.9zM435.7 423.9h0.9v0.9h-0.9zM439.2 426.7h0.8v0.8h-0.8zM434.5 423.9h1.3v1.3h-1.3zM441.2 425.2h1.2v1.2h-1.2zM438.0 423.4h1.3v1.3h-1.3zM439.3 427.9h1.0v1.0h-1.0zM437.4 424.8h1.3v1.3h-1.3zM438.8 428.3h1.1v1.1h-1.1zM439.9 426.8h1.1v1.1h-1.1zM441.5 424.6h1.0v1.0h-1.0zM441.2 424.4h1.2v1.2h-1.2zM437.3 424.8h1.1v1.1h-1.1zM435.7 421.8h1.1v1.1h-1.1zM435.6 422.3h0.9v0.9h-0.9zM439.1 426.5h1.3v1.3h-1.3zM439.3 419.6h1.1v1.1h-1.1zM438.1 422.8h1.0v1.0h-1.0zM436.7 433.0h1.4v1.4h-1.4zM432.4 427.8h1.0v1.0h-1.0zM434.0 430.5h1.0v1.0h-1.0zM431.9 435.1h0.9v0.9h-0.9zM434.1 432.0h1.3v1.3h-1.3zM432.5 435.6h1.0v1.0h-1.0zM434.3 429.8h1.3v1.3h-1.3zM437.1 430.5h1.2v1.2h-1.2zM436.5 428.3h1.4v1.4h-1.4zM433.2 435.6h1.3v1.3h-1.3zM433.1 432.4h1.3v1.3h-1.3zM431.3 431.8h1.3v1.3h-1.3zM432.3 431.5h1.2v1.2h-1.2zM432.3 430.9h1.2v1.2h-1.2zM434.9 430.2h1.3v1.3h-1.3zM434.0 428.2h0.9v0.9h-0.9zM430.7 438.0h1.0v1.0h-1.0zM432.2 438.2h0.9v0.9h-0.9zM433.1 435.9h1.0v1.0h-1.0zM429.6 441.0h1.3v1.3h-1.3zM433.7 439.8h0.9v0.9h-0.9zM432.7 438.3h1.4v1.4h-1.4zM429.3 440.6h0.8v0.8h-0.8zM431.8 441.3h1.0v1.0h-1.0zM432.2 441.7h0.9v0.9h-0.9zM428.4 437.6h1.3v1.3h-1.3zM430.3 444.7h1.2v1.2h-1.2zM431.5 446.2h0.8v0.8h-0.8zM434.7 445.2h1.3v1.3h-1.3zM431.4 444.1h1.4v1.4h-1.4zM435.3 447.6h0.8v0.8h-0.8zM434.6 447.1h1.1v1.1h-1.1zM431.6 449.2h0.8v0.8h-0.8zM431.1 445.9h0.9v0.9h-0.9zM435.0 445.9h1.3v1.3h-1.3zM431.0 447.6h1.1v1.1h-1.1zM430.4 451.6h1.4v1.4h-1.4zM434.2 446.3h1.1v1.1h-1.1zM433.4 455.4h0.9v0.9h-0.9zM435.1 456.9h1.0v1.0h-1.0zM433.2 457.0h1.1v1.1h-1.1zM435.4 460.3h0.8v0.8h-0.8zM434.1 455.2h1.3v1.3h-1.3zM434.9 453.0h0.9v0.9h-0.9zM434.7 456.9h1.0v1.0h-1.0zM435.9 457.2h0.8v0.8h-0.8zM430.9 455.4h1.3v1.3h-1.3zM433.3 456.2h1.4v1.4h-1.4zM431.9 460.2h0.9v0.9h-0.9zM432.8 460.9h1.2v1.2h-1.2zM437.0 469.0h1.1v1.1h-1.1zM435.8 468.2h0.9v0.9h-0.9zM432.7 466.2h1.0v1.0h-1.0zM433.1 466.7h1.0v1.0h-1.0zM435.9 465.1h0.9v0.9h-0.9zM433.5 467.0h1.1v1.1h-1.1zM439.0 462.5h1.3v1.3h-1.3zM437.5 465.5h1.0v1.0h-1.0zM437.6 467.8h1.0v1.0h-1.0zM435.7 468.5h1.4v1.4h-1.4zM430.5 465.9h1.1v1.1h-1.1zM435.6 462.5h1.2v1.2h-1.2zM439.2 464.7h1.1v1.1h-1.1zM435.9 467.3h1.1v1.1h-1.1zM434.4 466.9h1.4v1.4h-1.4zM438.9 466.7h0.9v0.9h-0.9zM431.4 468.6h1.4v1.4h-1.4zM432.0 468.6h1.3v1.3h-1.3zM435.0 468.9h1.1v1.1h-1.1zM436.8 464.4h1.3v1.3h-1.3zM437.4 469.8h1.2v1.2h-1.2zM438.1 466.7h1.3v1.3h-1.3zM438.4 474.2h1.1v1.1h-1.1zM436.7 473.2h1.1v1.1h-1.1zM441.5 472.6h1.1v1.1h-1.1zM436.0 475.1h0.9v0.9h-0.9zM435.9 474.4h0.9v0.9h-0.9zM439.1 474.2h1.2v1.2h-1.2zM439.7 470.7h1.2v1.2h-1.2zM440.6 474.3h1.1v1.1h-1.1zM438.1 475.3h1.0v1.0h-1.0zM438.9 474.5h1.1v1.1h-1.1zM440.9 474.2h1.0v1.0h-1.0zM439.9 470.7h1.1v1.1h-1.1z" fill="#8b0000"/>
<path d="M529.6 338.6h0.9v0.9h-0.9zM521.9 338.3h1.4v1.4h-1.4zM522.9 338.6h0.8v0.8h-0.8zM523.3 338.5h1.4v1.4h-1.4zM521.8 336.4h1.1v1.1h-1.1zM527.6 341.4h1.4v1.4h-1.4zM525.0 338.2h1.2v1.2h-1.2zM521.5 337.6h1.2v1.2h-1.2zM522.3 337.5h1.1v1.1h-1.1zM526.2 337.6h1.5v1.5h-1.5zM526.7 335.6h1.4v1.4h-1.4zM524.5 337.3h1.4v1.4h-1.4zM521.5 335.1h1.3v1.3h-1.3zM528.6 339.5h1.4v1.4h-1.4zM522.8 346.3h1.2v1.2h-1.2zM520.1 346.2h1.4v1.4h-1.4zM520.8 347.0h1.2v1.2h-1.2zM519.5 348.5h1.2v1.2h-1.2zM524.5 347.1h0.9v0.9h-0.9zM515.8 347.5h1.5v1.5h-1.5zM520.4 346.9h1.5v1.5h-1.5zM520.0 347.2h0.9v0.9h-0.9zM524.4 349.4h0.9v0.9h-0.9zM521.1 346.7h1.2v1.2h-1.2zM520.3 347.9h0.8v0.8h-0.8zM525.4 345.2h0.9v0.9h-0.9zM520.0 343.1h1.4v1.4h-1.4zM522.6 346.1h1.3v1.3h-1.3zM515.2 347.5h1.3v1.3h-1.3zM523.5 344.3h1.1v1.1h-1.1zM520.5 346.8h0.9v0.9h-0.9zM523.4 346.6h1.3v1.3h-1.3zM512.9 352.1h1.2v1.2h-1.2zM516.2 351.9h1.0v1.0h-1.0zM514.8 354.6h1.4v1.4h-1.4zM513.2 347.8h1.3v1.3h-1.3zM516.0 352.8h0.9v0.9h-0.9zM514.7 355.8h1.5v1.5h-1.5zM515.0 356.5h0.8v0.8h-0.8zM517.2 353.8h1.2v1.2h-1.2zM510.2 352.7h1.4v1.4h-1.4zM517.4 352.1h1.0v1.0h-1.0zM517.0 356.7h0.9v0.9h-0.9zM518.0 353.5h0.9v0.9h-0.9zM515.3 361.0h1.1v1.1h-1.1zM518.6 362.2h1.0v1.0h-1.0zM516.2 363.0h1.2v1.2h-1.2zM516.0 360.8h0.8v0.8h-0.8zM516.0 365.4h1.0v1.0h-1.0zM515.8 361.3h1.3v1.3h-1.3zM517.2 363.0h1.3v1.3h-1.3zM513.2 362.5h1.0v1.0h-1.0zM515.4 360.3h1.1v1.1h-1.1zM512.4 363.2h1.3v1.3h-1.3zM512.6 360.7h1.2v1.2h-1.2zM515.8 359.2h1.2v1.2h-1.2zM517.2 365.9h1.2v1.2h-1.2zM517.8 359.3h0.8v0.8h-0.8zM509.7 374.9h1.3v1.3h-1.3zM510.2 371.6h1.0v1.0h-1.0zM509.6 372.9h1.3v1.3h-1.3zM501.6 373.1h1.1v1.1h-1.1zM501.4 373.5h1.0v1.0h-1.0zM501.8 373.7h0.9v0.9h-0.9zM505.7 371.8h1.1v1.1h-1.1zM505.7 370.8h1.1v1.1h-1.1zM502.2 375.7h1.0v1.0h-1.0zM500.6 373.4h1.5v1.5h-1.5zM504.7 375.3h1.2v1.2h-1.2zM506.5 373.3h1.4v1.4h-1.4zM489.9 382.3h0.9v0.9h-0.9zM492.5 382.3h1.3v1.3h-1.3zM491.1 382.5h1.1v1.1h-1.1zM490.8 382.8h1.0v1.0h-1.0zM492.7 381.3h1.2v1.2h-1.2zM492.4 385.3h1.0v1.0h-1.0zM489.6 382.1h0.9v0.9h-0.9zM488.6 381.7h1.1v1.1h-1.1zM486.7 383.9h1.1v1.1h-1.1zM488.7 382.6h1.3v1.3h-1.3zM475.9 387.3h1.0v1.0h-1.0zM479.7 385.8h1.3v1.3h-1.3zM479.1 384.7h1.1v1.1h-1.1zM483.4 386.5h0.9v0.9h-0.9zM480.2 387.1h1.4v1.4h-1.4zM481.5 385.9h1.2v1.2h-1.2zM482.1 390.2h1.1v1.1h-1.1zM484.6 388.1h0.9v0.9h-0.9zM484.8 384.7h1.2v1.2h-1.2zM481.0 390.2h0.8v0.8h-0.8zM482.7 388.1h0.9v0.9h-0.9zM483.5 384.8h1.4v1.4h-1.4zM471.8 392.4h1.0v1.0h-1.0zM468.2 391.1h1.2v1.2h-1.2zM470.4 397.7h1.1v1.1h-1.1zM468.5 390.5h1.3v1.3h-1.3zM468.3 394.8h0.9v0.9h-0.9zM467.1 395.5h1.1v1.1h-1.1zM479.8 394.4h0.9v0.9h-0.9zM478.1 394.4h1.3v1.3h-1.3zM476.4 395.6h1.1v1.1h-1.1zM477.1 396.4h1.0v1.0h-1.0zM471.5 390.9h1.2v1.2h-1.2zM474.1 398.1h0.8v0.8h-0.8zM472.7 394.9h0.9v0.9h-0.9zM478.1 394.2h0.9v0.9h-0.9zM476.3 395.6h1.3v1.3h-1.3zM474.8 397.3h1.2v1.2h-1.2zM478.8 391.7h1.5v1.5h-1.5zM468.9 397.5h1.0v1.0h-1.0zM472.5 396.7h0.8v0.8h-0.8zM472.9 392.9h1.2v1.2h-1.2zM477.1 394.9h1.0v1.0h-1.0zM476.3 393.1h1.0v1.0h-1.0zM472.5 394.8h1.3v1.3h-1.3zM472.3 395.8h1.0v1.0h-1.0zM452.9 408.1h1.0v1.0h-1.0zM459.6 406.4h1.2v1.2h-1.2zM456.6 406.0h1.1v1.1h-1.1zM464.2 404.1h1.1v1.1h-1.1zM454.7 405.5h1.3v1.3h-1.3zM456.3 403.3h1.2v1.2h-1.2zM459.9 406.3h1.0v1.0h-1.0zM458.6 402.1h1.2v1.2h-1.2zM452.0 406.2h1.1v1.1h-1.1zM456.5 408.8h1.4v1.4h-1.4zM453.5 406.4h1.4v1.4h-1.4zM463.7 405.6h0.9v0.9h-0.9zM458.3 407.0h1.2v1.2h-1.2zM454.7 407.5h1.2v1.2h-1.2zM461.9 403.7h1.0v1.0h-1.0zM453.4 403.0h1.0v1.0h-1.0zM456.7 404.7h1.5v1.5h-1.5zM457.7 404.5h1.3v1.3h-1.3zM462.5 408.2h1.1v1.1h-1.1zM456.8 403.3h1.3v1.3h-1.3zM463.8 405.8h1.0v1.0h-1.0zM459.1 407.2h1.2v1.2h-1.2zM459.2 405.4h1.1v1.1h-1.1zM451.0 404.2h0.9v0.9h-0.9zM447.2 409.8h1.5v1.5h-1.5zM444.4 413.8h1.1v1.1h-1.1zM450.4 413.9h1.2v1.2h-1.2zM446.4 410.7h1.1v1.1h-1.1zM445.9 413.7h1.1v1.1h-1.1zM444.2 410.1h1.3v1.3h-1.3zM449.6 411.6h1.4v1.4h-1.4zM451.0 410.7h1.0v1.0h-1.0zM448.5 409.2h0.8v0.8h-0.8zM448.1 408.1h1.4v1.4h-1.4zM444.1 414.8h1.4v1.4h-1.4zM442.9 413.1h1.1v1.1h-1.1zM449.2 410.7h1.0v1.0h-1.0zM443.2 413.3h1.1v1.1h-1.1zM440.9 422.7h1.0v1.0h-1.0zM441.4 419.6h1.0v1.0h-1.0zM443.4 421.5h1.0v1.0h-1.0zM441.6 419.6h1.5v1.5h-1.5zM441.9 419.6h1.2v1.2h-1.2zM443.8 420.1h1.4v1.4h-1.4zM443.5 420.4h1.4v1.4h-1.4zM442.1 420.8h0.8v0.8h-0.8zM441.1 415.5h1.1v1.1h-1.1zM440.2 423.5h1.0v1.0h-1.0z" fill="#8b0000"/>
<path d="M200.2 457.9h0.8v0.8h-0.8zM200.2 455.4h0.8v0.8h-0.8zM200.3 455.7h1.0v1.0h-1.0zM200.4 453.9h1.2v1.2h-1.2zM203.2 458.0h1.2v1.2h-1.2zM201.5 459.2h1.2v1.2h-1.2zM202.8 455.8h1.2v1.2h-1.2zM201.8 453.8h1.0v1.0h-1.0zM201.3 449.2h0.9v0.9h-0.9zM204.0 457.0h1.0v1.0h-1.0zM196.9 457.7h1.2v1.2h-1.2zM198.0 450.1h1.2v1.2h-1.2zM246.8 442.2h1.2v1.2h-1.2zM249.7 451.1h1.3v1.3h-1.3zM243.5 453.4h0.8v0.8h-0.8zM241.9 448.3h1.0v1.0h-1.0zM241.8 452.3h0.9v0.9h-0.9zM244.6 448.7h1.0v1.0h-1.0zM248.2 444.2h0.8v0.8h-0.8zM247.8 443.1h1.1v1.1h-1.1zM245.0 452.0h0.9v0.9h-0.9zM244.9 447.3h1.4v1.4h-1.4zM248.3 452.0h1.1v1.1h-1.1zM244.1 450.9h1.1v1.1h-1.1zM159.4 480.9h1.2v1.2h-1.2zM157.4 478.6h1.1v1.1h-1.1zM163.1 478.8h1.4v1.4h-1.4zM163.7 478.4h1.2v1.2h-1.2zM164.6 476.7h0.8v0.8h-0.8zM165.5 479.8h1.2v1.2h-1.2zM167.9 479.7h1.3v1.3h-1.3zM156.7 479.6h1.0v1.0h-1.0zM164.9 477.8h1.0v1.0h-1.0zM158.6 480.1h1.3v1.3h-1.3zM153.8 488.0h1.3v1.3h-1.3zM149.8 485.7h1.0v1.0h-1.0zM151.8 486.0h1.4v1.4h-1.4zM147.6 488.4h1.2v1.2h-1.2zM148.7 484.5h1.3v1.3h-1.3zM147.0 484.2h1.2v1.2h-1.2zM149.7 486.6h1.3v1.3h-1.3zM150.8 488.4h0.8v0.8h-0.8zM148.4 485.6h1.2v1.2h-1.2zM152.5 483.5h1.3v1.3h-1.3zM152.1 485.5h0.8v0.8h-0.8zM151.1 483.3h1.1v1.1h-1.1zM140.4 531.0h1.0v1.0h-1.0zM138.3 532.5h1.0v1.0h-1.0zM137.7 532.3h1.1v1.1h-1.1zM136.8 534.5h1.0v1.0h-1.0zM137.8 528.9h1.2v1.2h-1.2zM138.3 530.2h1.1v1.1h-1.1zM140.6 535.6h1.2v1.2h-1.2zM135.2 529.6h1.4v1.4h-1.4zM137.2 527.7h1.2v1.2h-1.2zM137.2 538.2h1.2v1.2h-1.2zM137.1 532.1h1.1v1.1h-1.1zM136.2 536.3h1.4v1.4h-1.4zM137.9 533.6h0.9v0.9h-0.9zM134.3 532.1h0.8v0.8h-0.8zM136.2 534.6h1.1v1.1h-1.1zM136.1 530.8h1.0v1.0h-1.0zM137.9 509.7h1.3v1.3h-1.3zM137.5 522.2h0.9v0.9h-0.9zM138.8 523.0h1.2v1.2h-1.2zM131.9 519.4h1.3v1.3h-1.3zM134.4 517.3h1.3v1.3h-1.3zM133.2 516.8h0.9v0.9h-0.9zM131.4 515.5h1.4v1.4h-1.4zM135.9 518.8h1.4v1.4h-1.4zM132.2 515.7h1.2v1.2h-1.2zM133.4 519.9h1.3v1.3h-1.3zM135.4 516.5h0.8v0.8h-0.8zM137.0 510.2h1.2v1.2h-1.2zM214.1 451.4h1.0v1.0h-1.0zM216.4 452.3h1.0v1.0h-1.0zM222.3 450.6h1.1v1.1h-1.1zM222.4 451.9h1.3v1.3h-1.3zM214.7 449.4h1.3v1.3h-1.3zM231.5 453.5h1.2v1.2h-1.2zM232.1 455.0h0.9v0.9h-0.9zM235.2 456.0h1.0v1.0h-1.0zM236.5 454.3h1.0v1.0h-1.0zM235.5 456.0h1.3v1.3h-1.3z" fill="#8b0000"/>
<path d="M253.0 451.8h1.1v1.1h-1.1zM253.0 452.5h1.0v1.0h-1.0zM256.9 449.5h0.8v0.8h-0.8zM255.7 450.0h1.4v1.4h-1.4zM251.5 448.7h1.4v1.4h-1.4zM256.9 445.0h0.9v0.9h-0.9zM252.2 447.5h1.4v1.4h-1.4zM256.5 449.0h1.2v1.2h-1.2zM252.0 444.9h1.3v1.3h-1.3zM254.6 455.3h1.3v1.3h-1.3zM290.4 450.9h1.0v1.0h-1.0zM283.4 451.6h1.0v1.0h-1.0zM282.7 449.2h1.4v1.4h-1.4zM288.3 450.1h1.2v1.2h-1.2zM287.7 449.3h1.2v1.2h-1.2zM285.6 452.3h0.9v0.9h-0.9zM284.2 450.4h1.1v1.1h-1.1zM290.1 450.8h1.3v1.3h-1.3zM304.2 451.9h1.3v1.3h-1.3zM302.8 444.2h0.9v0.9h-0.9zM301.3 447.4h1.4v1.4h-1.4zM302.7 445.5h1.4v1.4h-1.4zM302.0 445.5h0.8v0.8h-0.8zM304.2 452.3h1.1v1.1h-1.1zM304.7 443.4h1.4v1.4h-1.4zM305.6 447.4h1.2v1.2h-1.2zM325.1 448.7h1.1v1.1h-1.1zM326.5 447.8h1.0v1.0h-1.0zM327.9 448.9h1.0v1.0h-1.0zM363.6 452.4h1.2v1.2h-1.2zM361.4 454.8h0.9v0.9h-0.9zM361.9 454.2h1.0v1.0h-1.0zM358.2 453.3h0.8v0.8h-0.8zM360.1 453.0h0.8v0.8h-0.8zM360.7 452.8h1.1v1.1h-1.1z" fill="#8b0000"/>
<path d="M400.7 452.7h1.0v1.0h-1.0zM394.6 450.1h0.9v0.9h-0.9zM404.2 452.7h1.0v1.0h-1.0zM393.4 449.6h1.3v1.3h-1.3zM399.8 450.1h1.3v1.3h-1.3zM390.7 452.7h1.0v1.0h-1.0zM388.7 452.5h1.4v1.4h-1.4zM393.5 453.3h1.6v1.6h-1.6zM387.5 450.2h1.4v1.4h-1.4zM397.8 451.2h1.4v1.4h-1.4zM398.7 452.3h1.3v1.3h-1.3zM391.3 453.7h1.1v1.1h-1.1zM394.1 453.6h1.3v1.3h-1.3zM391.7 450.1h1.2v1.2h-1.2zM404.6 451.3h1.3v1.3h-1.3zM391.3 451.8h1.0v1.0h-1.0zM404.6 453.3h1.5v1.5h-1.5zM403.3 452.9h1.2v1.2h-1.2zM390.8 450.4h1.1v1.1h-1.1zM397.9 452.3h1.2v1.2h-1.2zM410.4 462.9h1.2v1.2h-1.2zM411.5 464.2h1.2v1.2h-1.2zM412.5 460.9h1.6v1.6h-1.6zM408.2 461.9h1.1v1.1h-1.1zM408.2 466.2h1.5v1.5h-1.5zM409.4 461.8h1.5v1.5h-1.5zM408.1 461.5h1.0v1.0h-1.0zM410.4 468.3h1.2v1.2h-1.2zM410.3 469.5h1.6v1.6h-1.6zM408.6 459.4h1.4v1.4h-1.4zM409.6 464.7h1.3v1.3h-1.3zM413.0 462.2h1.4v1.4h-1.4zM410.4 464.7h1.3v1.3h-1.3zM408.8 467.3h1.6v1.6h-1.6z" fill="#8b0000"/>
<path d="M527 857 L537 845 L547 837 L552 820 L560.25 814.5" fill="none" stroke="#fff" stroke-width="2.2" stroke-linejoin="round"/>
<path d="M592 807 L604 794.75 L621.5 785.75" fill="none" stroke="#fff" stroke-width="2.2" />
<path d="M399.5 770 L398.5 790 L395 805" fill="none" stroke="#fff" stroke-width="1.4" />
<path d="M414 837.5 L424 845.5 L430.25 848.75" fill="none" stroke="#fff" stroke-width="1.4" />
<path d="M464 843.75 L470.25 848.75" fill="none" stroke="#fff" stroke-width="2" />
</g>
<g><rect x="878.5" y="169.25" width="42.5" height="31.39" fill="#8b0000"/><rect x="878.5" y="200.34" width="42.5" height="31.39" fill="#b40000"/><rect x="878.5" y="231.43" width="42.5" height="31.39" fill="#e60000"/><rect x="878.5" y="262.52" width="42.5" height="31.39" fill="#ff1400"/><rect x="878.5" y="293.61" width="42.5" height="31.39" fill="#ff4600"/><rect x="878.5" y="324.70" width="42.5" height="31.39" fill="#ff7800"/><rect x="878.5" y="355.80" width="42.5" height="31.39" fill="#ffa000"/><rect x="878.5" y="386.89" width="42.5" height="31.39" fill="#ffcd00"/><rect x="878.5" y="417.98" width="42.5" height="31.39" fill="#ffff00"/><rect x="878.5" y="449.07" width="42.5" height="31.39" fill="#dcff28"/><rect x="878.5" y="480.16" width="42.5" height="31.39" fill="#aaff55"/><rect x="878.5" y="511.25" width="42.5" height="31.39" fill="#80ff80"/><rect x="878.5" y="542.34" width="42.5" height="31.39" fill="#55ffaa"/><rect x="878.5" y="573.43" width="42.5" height="31.39" fill="#28ffdc"/><rect x="878.5" y="604.52" width="42.5" height="31.39" fill="#00ffff"/><rect x="878.5" y="635.61" width="42.5" height="31.39" fill="#00c8ff"/><rect x="878.5" y="666.70" width="42.5" height="31.39" fill="#009bff"/><rect x="878.5" y="697.80" width="42.5" height="31.39" fill="#0069ff"/><rect x="878.5" y="728.89" width="42.5" height="31.39" fill="#0037ff"/><rect x="878.5" y="759.98" width="42.5" height="31.39" fill="#0005ff"/><rect x="878.5" y="791.07" width="42.5" height="31.39" fill="#0000dc"/><rect x="878.5" y="822.16" width="42.5" height="31.39" fill="#0000af"/><line x1="878.5" x2="921" y1="200.34" y2="200.34" stroke="#000" stroke-opacity=".85" stroke-width=".7" stroke-dasharray="2.2 1"/><line x1="878.5" x2="921" y1="231.43" y2="231.43" stroke="#000" stroke-opacity=".85" stroke-width=".7" stroke-dasharray="2.2 1"/><line x1="878.5" x2="921" y1="262.52" y2="262.52" stroke="#000" stroke-opacity=".85" stroke-width=".7" stroke-dasharray="2.2 1"/><line x1="878.5" x2="921" y1="293.61" y2="293.61" stroke="#000" stroke-opacity=".85" stroke-width=".7" stroke-dasharray="2.2 1"/><line x1="878.5" x2="921" y1="324.70" y2="324.70" stroke="#000" stroke-opacity=".85" stroke-width=".7" stroke-dasharray="2.2 1"/><line x1="878.5" x2="921" y1="355.80" y2="355.80" stroke="#000" stroke-opacity=".85" stroke-width=".7" stroke-dasharray="2.2 1"/><line x1="878.5" x2="921" y1="386.89" y2="386.89" stroke="#000" stroke-opacity=".85" stroke-width=".7" stroke-dasharray="2.2 1"/><line x1="878.5" x2="921" y1="417.98" y2="417.98" stroke="#000" stroke-opacity=".85" stroke-width=".7" stroke-dasharray="2.2 1"/><line x1="878.5" x2="921" y1="449.07" y2="449.07" stroke="#000" stroke-opacity=".85" stroke-width=".7" stroke-dasharray="2.2 1"/><line x1="878.5" x2="921" y1="480.16" y2="480.16" stroke="#000" stroke-opacity=".85" stroke-width=".7" stroke-dasharray="2.2 1"/><line x1="878.5" x2="921" y1="511.25" y2="511.25" stroke="#000" stroke-opacity=".85" stroke-width=".7" stroke-dasharray="2.2 1"/><line x1="878.5" x2="921" y1="542.34" y2="542.34" stroke="#000" stroke-opacity=".85" stroke-width=".7" stroke-dasharray="2.2 1"/><line x1="878.5" x2="921" y1="573.43" y2="573.43" stroke="#000" stroke-opacity=".85" stroke-width=".7" stroke-dasharray="2.2 1"/><line x1="878.5" x2="921" y1="604.52" y2="604.52" stroke="#000" stroke-opacity=".85" stroke-width=".7" stroke-dasharray="2.2 1"/><line x1="878.5" x2="921" y1="635.61" y2="635.61" stroke="#000" stroke-opacity=".85" stroke-width=".7" stroke-dasharray="2.2 1"/><line x1="878.5" x2="921" y1="666.70" y2="666.70" stroke="#000" stroke-opacity=".85" stroke-width=".7" stroke-dasharray="2.2 1"/><line x1="878.5" x2="921" y1="697.80" y2="697.80" stroke="#000" stroke-opacity=".85" stroke-width=".7" stroke-dasharray="2.2 1"/><line x1="878.5" x2="921" y1="728.89" y2="728.89" stroke="#000" stroke-opacity=".85" stroke-width=".7" stroke-dasharray="2.2 1"/><line x1="878.5" x2="921" y1="759.98" y2="759.98" stroke="#000" stroke-opacity=".85" stroke-width=".7" stroke-dasharray="2.2 1"/><line x1="878.5" x2="921" y1="791.07" y2="791.07" stroke="#000" stroke-opacity=".85" stroke-width=".7" stroke-dasharray="2.2 1"/><line x1="878.5" x2="921" y1="822.16" y2="822.16" stroke="#000" stroke-opacity=".85" stroke-width=".7" stroke-dasharray="2.2 1"/><rect x="878.5" y="169.25" width="42.5" height="684.0" fill="none" stroke="#444" stroke-opacity=".6" stroke-width=".6"/><text x="960" y="211.34" font-size="32.6" text-anchor="middle">2</text><text x="960" y="273.52" font-size="32.6" text-anchor="middle">1.6</text><text x="960" y="335.70" font-size="32.6" text-anchor="middle">1.2</text><text x="960" y="397.89" font-size="32.6" text-anchor="middle">0.8</text><text x="960" y="460.07" font-size="32.6" text-anchor="middle">0.4</text><text x="960" y="522.25" font-size="32.6" text-anchor="middle">0</text><text x="960" y="584.43" font-size="32.6" text-anchor="middle">-0.4</text><text x="960" y="646.61" font-size="32.6" text-anchor="middle">-0.8</text><text x="960" y="708.80" font-size="32.6" text-anchor="middle">-1.2</text><text x="960" y="770.98" font-size="32.6" text-anchor="middle">-1.6</text><text x="960" y="833.16" font-size="32.6" text-anchor="middle">-2</text></g>
<g><rect x="129.3" y="162.1" width="710.7" height="698.1" fill="none" stroke="#1a1a1a" stroke-width="1.1"/><line x1="185.40" x2="185.40" y1="860.2" y2="876.7" stroke="#1a1a1a" stroke-width="1.1"/><text x="185.40" y="910.2" font-size="22.9" text-anchor="middle">95°W</text><line x1="279.00" x2="279.00" y1="860.2" y2="876.7" stroke="#1a1a1a" stroke-width="1.1"/><text x="279.00" y="910.2" font-size="22.9" text-anchor="middle">90°W</text><line x1="372.60" x2="372.60" y1="860.2" y2="876.7" stroke="#1a1a1a" stroke-width="1.1"/><text x="372.60" y="910.2" font-size="22.9" text-anchor="middle">85°W</text><line x1="466.20" x2="466.20" y1="860.2" y2="876.7" stroke="#1a1a1a" stroke-width="1.1"/><text x="466.20" y="910.2" font-size="22.9" text-anchor="middle">80°W</text><line x1="559.80" x2="559.80" y1="860.2" y2="876.7" stroke="#1a1a1a" stroke-width="1.1"/><text x="559.80" y="910.2" font-size="22.9" text-anchor="middle">75°W</text><line x1="653.40" x2="653.40" y1="860.2" y2="876.7" stroke="#1a1a1a" stroke-width="1.1"/><text x="653.40" y="910.2" font-size="22.9" text-anchor="middle">70°W</text><line x1="747.00" x2="747.00" y1="860.2" y2="876.7" stroke="#1a1a1a" stroke-width="1.1"/><text x="747.00" y="910.2" font-size="22.9" text-anchor="middle">65°W</text><line x1="112.6" x2="129.3" y1="177.30" y2="177.30" stroke="#1a1a1a" stroke-width="1.1"/><text x="98.3" y="185.60" font-size="22.9" text-anchor="end">45°N</text><line x1="112.6" x2="129.3" y1="270.97" y2="270.97" stroke="#1a1a1a" stroke-width="1.1"/><text x="98.3" y="279.27" font-size="22.9" text-anchor="end">40°N</text><line x1="112.6" x2="129.3" y1="364.63" y2="364.63" stroke="#1a1a1a" stroke-width="1.1"/><text x="98.3" y="372.93" font-size="22.9" text-anchor="end">35°N</text><line x1="112.6" x2="129.3" y1="458.30" y2="458.30" stroke="#1a1a1a" stroke-width="1.1"/><text x="98.3" y="466.60" font-size="22.9" text-anchor="end">30°N</text><line x1="112.6" x2="129.3" y1="551.96" y2="551.96" stroke="#1a1a1a" stroke-width="1.1"/><text x="98.3" y="560.26" font-size="22.9" text-anchor="end">25°N</text><line x1="112.6" x2="129.3" y1="645.62" y2="645.62" stroke="#1a1a1a" stroke-width="1.1"/><text x="98.3" y="653.92" font-size="22.9" text-anchor="end">20°N</text><line x1="112.6" x2="129.3" y1="739.29" y2="739.29" stroke="#1a1a1a" stroke-width="1.1"/><text x="98.3" y="747.59" font-size="22.9" text-anchor="end">15°N</text><line x1="112.6" x2="129.3" y1="832.95" y2="832.95" stroke="#1a1a1a" stroke-width="1.1"/><text x="98.3" y="841.25" font-size="22.9" text-anchor="end">10°N</text><text x="484.6" y="944.9" font-size="22.9" text-anchor="middle">Longitude</text><text transform="translate(41.6,511.2) rotate(-90)" font-size="22.9" text-anchor="middle">Latitude</text><text x="163.6" y="133.2" font-size="25.35">2020112001</text><text x="656.4" y="128.2" font-size="25.5">Elevation (m)</text></g>
</svg></body></html>
